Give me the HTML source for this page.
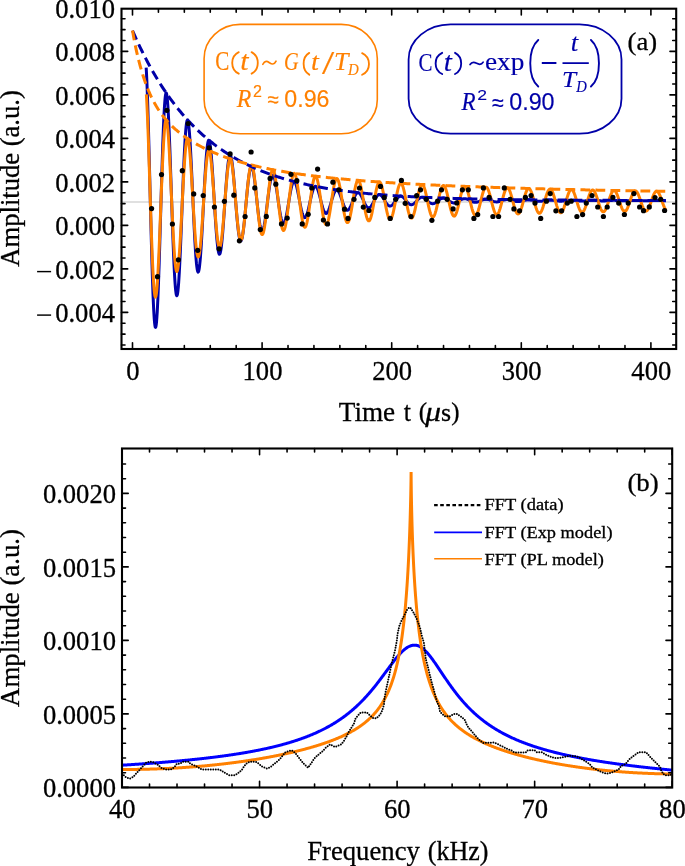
<!DOCTYPE html><html><head><meta charset="utf-8"><style>html,body{margin:0;padding:0;background:#fff;}svg{display:block;will-change:transform;}text{font-family:"Liberation Serif",serif;stroke:#000;stroke-width:0.3px;}.go text{stroke:#ff8000;stroke-width:0.15px}.gb text{stroke:#0000a8;stroke-width:0.15px}</style></head><body><svg width="685" height="866" viewBox="0 0 685 866"><rect width="685" height="866" fill="#fff"/><defs><clipPath id="ca"><rect x="121.50" y="8.70" width="554.70" height="340.30"/></clipPath><clipPath id="cb"><rect x="122.00" y="448.50" width="550.20" height="339.00"/></clipPath></defs><g clip-path="url(#ca)"><path d="M121.50,202.00H676.20" stroke="#d6d6d6" stroke-width="1.7"/><path d="M146.17,67.67 L146.50,73.44 L146.82,80.34 L147.15,88.28 L147.47,97.20 L147.80,106.99 L148.12,117.56 L148.45,128.82 L148.77,140.64 L149.10,152.92 L149.42,165.54 L149.75,178.38 L150.07,191.33 L150.40,204.25 L150.72,217.05 L151.05,229.59 L151.37,241.77 L151.70,253.48 L152.02,264.62 L152.34,275.08 L152.67,284.79 L152.99,293.65 L153.32,301.59 L153.64,308.56 L153.97,314.49 L154.29,319.33 L154.62,323.06 L154.94,325.66 L155.27,327.09 L155.59,327.37 L155.92,326.50 L156.24,324.50 L156.57,321.39 L156.89,317.22 L157.22,312.03 L157.54,305.88 L157.87,298.83 L158.19,290.96 L158.52,282.34 L158.84,273.06 L159.17,263.21 L159.49,252.88 L159.82,242.18 L160.14,231.20 L160.47,220.05 L160.79,208.82 L161.12,197.63 L161.44,186.58 L161.77,175.76 L162.09,165.28 L162.42,155.22 L162.74,145.67 L163.07,136.72 L163.39,128.44 L163.71,120.90 L164.04,114.16 L164.36,108.29 L164.69,103.32 L165.01,99.29 L165.34,96.24 L165.66,94.17 L165.99,93.11 L166.31,93.04 L166.64,93.98 L166.96,95.88 L167.29,98.74 L167.61,102.51 L167.94,107.16 L168.26,112.63 L168.59,118.86 L168.91,125.80 L169.24,133.37 L169.56,141.50 L169.89,150.11 L170.21,159.11 L170.54,168.43 L170.86,177.96 L171.19,187.63 L171.51,197.34 L171.84,207.01 L172.16,216.55 L172.49,225.86 L172.81,234.87 L173.14,243.50 L173.46,251.67 L173.79,259.32 L174.11,266.37 L174.43,272.76 L174.76,278.45 L175.08,283.39 L175.41,287.54 L175.73,290.86 L176.06,293.35 L176.38,294.97 L176.71,295.72 L177.03,295.61 L177.36,294.64 L177.68,292.83 L178.01,290.20 L178.33,286.78 L178.66,282.61 L178.98,277.74 L179.31,272.22 L179.63,266.10 L179.96,259.44 L180.28,252.31 L180.61,244.78 L180.93,236.92 L181.26,228.81 L181.58,220.52 L181.91,212.13 L182.23,203.71 L182.56,195.35 L182.88,187.12 L183.21,179.09 L183.53,171.33 L183.86,163.92 L184.18,156.92 L184.51,150.39 L184.83,144.38 L185.15,138.95 L185.48,134.13 L185.80,129.98 L186.13,126.51 L186.45,123.76 L186.78,121.74 L187.10,120.47 L187.43,119.95 L187.75,120.18 L188.08,121.15 L188.40,122.85 L188.73,125.25 L189.05,128.33 L189.38,132.05 L189.70,136.37 L190.03,141.25 L190.35,146.63 L190.68,152.47 L191.00,158.71 L191.33,165.28 L191.65,172.13 L191.98,179.19 L192.30,186.38 L192.63,193.65 L192.95,200.93 L193.28,208.15 L193.60,215.25 L193.93,222.16 L194.25,228.82 L194.58,235.17 L194.90,241.15 L195.23,246.73 L195.55,251.84 L195.87,256.44 L196.20,260.50 L196.52,263.99 L196.85,266.87 L197.17,269.13 L197.50,270.75 L197.82,271.73 L198.15,272.05 L198.47,271.72 L198.80,270.76 L199.12,269.17 L199.45,266.97 L199.77,264.20 L200.10,260.87 L200.42,257.03 L200.75,252.72 L201.07,247.97 L201.40,242.84 L201.72,237.38 L202.05,231.63 L202.37,225.66 L202.70,219.52 L203.02,213.26 L203.35,206.96 L203.67,200.65 L204.00,194.41 L204.32,188.29 L204.65,182.34 L204.97,176.61 L205.30,171.16 L205.62,166.03 L205.95,161.28 L206.27,156.93 L206.59,153.02 L206.92,149.59 L207.24,146.66 L207.57,144.26 L207.89,142.40 L208.22,141.09 L208.54,140.35 L208.87,140.17 L209.19,140.55 L209.52,141.48 L209.84,142.95 L210.17,144.95 L210.49,147.44 L210.82,150.40 L211.14,153.80 L211.47,157.60 L211.79,161.77 L212.12,166.27 L212.44,171.05 L212.77,176.06 L213.09,181.26 L213.42,186.59 L213.74,192.02 L214.07,197.48 L214.39,202.93 L214.72,208.32 L215.04,213.59 L215.37,218.71 L215.69,223.62 L216.02,228.29 L216.34,232.67 L216.67,236.72 L216.99,240.41 L217.32,243.72 L217.64,246.61 L217.96,249.06 L218.29,251.05 L218.61,252.56 L218.94,253.60 L219.26,254.15 L219.59,254.21 L219.91,253.79 L220.24,252.89 L220.56,251.52 L220.89,249.71 L221.21,247.47 L221.54,244.83 L221.86,241.82 L222.19,238.45 L222.51,234.78 L222.84,230.84 L223.16,226.66 L223.49,222.28 L223.81,217.75 L224.14,213.10 L224.46,208.39 L224.79,203.66 L225.11,198.94 L225.44,194.29 L225.76,189.73 L226.09,185.33 L226.41,181.11 L226.74,177.11 L227.06,173.36 L227.39,169.90 L227.71,166.76 L228.04,163.96 L228.36,161.52 L228.68,159.47 L229.01,157.82 L229.33,156.58 L229.66,155.75 L229.98,155.35 L230.31,155.38 L230.63,155.82 L230.96,156.67 L231.28,157.92 L231.61,159.56 L231.93,161.56 L232.26,163.90 L232.58,166.57 L232.91,169.53 L233.23,172.75 L233.56,176.21 L233.88,179.86 L234.21,183.68 L234.53,187.62 L234.86,191.65 L235.18,195.73 L235.51,199.83 L235.83,203.90 L236.16,207.92 L236.48,211.83 L236.81,215.62 L237.13,219.24 L237.46,222.66 L237.78,225.86 L238.11,228.80 L238.43,231.47 L238.76,233.83 L239.08,235.88 L239.40,237.59 L239.73,238.95 L240.05,239.95 L240.38,240.60 L240.70,240.87 L241.03,240.78 L241.35,240.33 L241.68,239.52 L242.00,238.37 L242.33,236.89 L242.65,235.10 L242.98,233.01 L243.30,230.65 L243.63,228.04 L243.95,225.20 L244.28,222.18 L244.60,218.98 L244.93,215.65 L245.25,212.21 L245.58,208.71 L245.90,205.16 L246.23,201.61 L246.55,198.09 L246.88,194.62 L247.20,191.25 L247.53,187.99 L247.85,184.88 L248.18,181.95 L248.50,179.21 L248.83,176.71 L249.15,174.44 L249.48,172.44 L249.80,170.72 L250.12,169.29 L250.45,168.16 L250.77,167.35 L251.10,166.85 L251.42,166.67 L251.75,166.80 L252.07,167.25 L252.40,168.00 L252.72,169.05 L253.05,170.38 L253.37,171.98 L253.70,173.83 L254.02,175.91 L254.35,178.21 L254.67,180.69 L255.00,183.34 L255.32,186.13 L255.65,189.03 L255.97,192.02 L256.30,195.06 L256.62,198.13 L256.95,201.20 L257.27,204.24 L257.60,207.23 L257.92,210.14 L258.25,212.93 L258.57,215.59 L258.90,218.10 L259.22,220.43 L259.55,222.56 L259.87,224.48 L260.20,226.17 L260.52,227.61 L260.85,228.80 L261.17,229.72 L261.49,230.37 L261.82,230.75 L262.14,230.85 L262.47,230.68 L262.79,230.25 L263.12,229.54 L263.44,228.59 L263.77,227.39 L264.09,225.96 L264.42,224.31 L264.74,222.47 L265.07,220.45 L265.39,218.26 L265.72,215.94 L266.04,213.50 L266.37,210.97 L266.69,208.37 L267.02,205.73 L267.34,203.07 L267.67,200.41 L267.99,197.78 L268.32,195.20 L268.64,192.69 L268.97,190.29 L269.29,188.00 L269.62,185.86 L269.94,183.87 L270.27,182.05 L270.59,180.43 L270.92,179.00 L271.24,177.79 L271.57,176.80 L271.89,176.04 L272.21,175.52 L272.54,175.23 L272.86,175.18 L273.19,175.37 L273.51,175.79 L273.84,176.44 L274.16,177.31 L274.49,178.38 L274.81,179.65 L275.14,181.11 L275.46,182.73 L275.79,184.51 L276.11,186.42 L276.44,188.45 L276.76,190.58 L277.09,192.78 L277.41,195.04 L277.74,197.33 L278.06,199.64 L278.39,201.93 L278.71,204.20 L279.04,206.42 L279.36,208.58 L279.69,210.64 L280.01,212.59 L280.34,214.43 L280.66,216.12 L280.99,217.66 L281.31,219.04 L281.64,220.24 L281.96,221.25 L282.29,222.06 L282.61,222.68 L282.93,223.09 L283.26,223.30 L283.58,223.30 L283.91,223.10 L284.23,222.70 L284.56,222.10 L284.88,221.31 L285.21,220.35 L285.53,219.21 L285.86,217.92 L286.18,216.49 L286.51,214.92 L286.83,213.24 L287.16,211.47 L287.48,209.61 L287.81,207.69 L288.13,205.72 L288.46,203.73 L288.78,201.73 L289.11,199.74 L289.43,197.78 L289.76,195.87 L290.08,194.01 L290.41,192.24 L290.73,190.56 L291.06,189.00 L291.38,187.55 L291.71,186.24 L292.03,185.07 L292.36,184.06 L292.68,183.22 L293.01,182.54 L293.33,182.03 L293.65,181.71 L293.98,181.56 L294.30,181.59 L294.63,181.80 L294.95,182.17 L295.28,182.72 L295.60,183.43 L295.93,184.29 L296.25,185.30 L296.58,186.44 L296.90,187.70 L297.23,189.08 L297.55,190.55 L297.88,192.10 L298.20,193.71 L298.53,195.38 L298.85,197.09 L299.18,198.82 L299.50,200.55 L299.83,202.26 L300.15,203.95 L300.48,205.60 L300.80,207.19 L301.13,208.71 L301.45,210.15 L301.78,211.49 L302.10,212.72 L302.43,213.83 L302.75,214.81 L303.08,215.66 L303.40,216.36 L303.73,216.92 L304.05,217.33 L304.37,217.58 L304.70,217.68 L305.02,217.62 L305.35,217.41 L305.67,217.05 L306.00,216.55 L306.32,215.91 L306.65,215.14 L306.97,214.24 L307.30,213.23 L307.62,212.12 L307.95,210.91 L308.27,209.62 L308.60,208.26 L308.92,206.85 L309.25,205.40 L309.57,203.91 L309.90,202.41 L310.22,200.92 L310.55,199.43 L310.87,197.97 L311.20,196.55 L311.52,195.18 L311.85,193.87 L312.17,192.64 L312.50,191.50 L312.82,190.45 L313.15,189.51 L313.47,188.68 L313.80,187.96 L314.12,187.37 L314.45,186.91 L314.77,186.58 L315.10,186.39 L315.42,186.33 L315.74,186.40 L316.07,186.60 L316.39,186.93 L316.72,187.39 L317.04,187.97 L317.37,188.65 L317.69,189.45 L318.02,190.34 L318.34,191.32 L318.67,192.38 L318.99,193.50 L319.32,194.69 L319.64,195.92 L319.97,197.18 L320.29,198.47 L320.62,199.77 L320.94,201.06 L321.27,202.34 L321.59,203.60 L321.92,204.82 L322.24,206.00 L322.57,207.12 L322.89,208.17 L323.22,209.14 L323.54,210.03 L323.87,210.83 L324.19,211.53 L324.52,212.13 L324.84,212.62 L325.17,212.99 L325.49,213.26 L325.82,213.40 L326.14,213.43 L326.46,213.35 L326.79,213.15 L327.11,212.84 L327.44,212.42 L327.76,211.90 L328.09,211.29 L328.41,210.58 L328.74,209.80 L329.06,208.93 L329.39,208.00 L329.71,207.02 L330.04,205.98 L330.36,204.91 L330.69,203.81 L331.01,202.69 L331.34,201.56 L331.66,200.44 L331.99,199.33 L332.31,198.24 L332.64,197.19 L332.96,196.18 L333.29,195.22 L333.61,194.32 L333.94,193.49 L334.26,192.73 L334.59,192.05 L334.91,191.46 L335.24,190.96 L335.56,190.55 L335.89,190.24 L336.21,190.03 L336.54,189.92 L336.86,189.91 L337.18,190.01 L337.51,190.19 L337.83,190.48 L338.16,190.85 L338.48,191.32 L338.81,191.86 L339.13,192.49 L339.46,193.18 L339.78,193.94 L340.11,194.75 L340.43,195.62 L340.76,196.52 L341.08,197.45 L341.41,198.41 L341.73,199.38 L342.06,200.35 L342.38,201.32 L342.71,202.28 L343.03,203.22 L343.36,204.12 L343.68,204.99 L344.01,205.81 L344.33,206.58 L344.66,207.28 L344.98,207.93 L345.31,208.50 L345.63,209.00 L345.96,209.41 L346.28,209.75 L346.61,210.00 L346.93,210.17 L347.26,210.24 L347.58,210.23 L347.90,210.14 L348.23,209.96 L348.55,209.70 L348.88,209.35 L349.20,208.94 L349.53,208.45 L349.85,207.90 L350.18,207.28 L350.50,206.62 L350.83,205.90 L351.15,205.15 L351.48,204.36 L351.80,203.54 L352.13,202.71 L352.45,201.87 L352.78,201.02 L353.10,200.18 L353.43,199.36 L353.75,198.55 L354.08,197.77 L354.40,197.02 L354.73,196.32 L355.05,195.66 L355.38,195.06 L355.70,194.51 L356.03,194.03 L356.35,193.61 L356.68,193.26 L357.00,192.98 L357.33,192.77 L357.65,192.64 L357.98,192.59 L358.30,192.61 L358.63,192.71 L358.95,192.88 L359.27,193.11 L359.60,193.42 L359.92,193.79 L360.25,194.23 L360.57,194.71 L360.90,195.25 L361.22,195.84 L361.55,196.46 L361.87,197.12 L362.20,197.81 L362.52,198.52 L362.85,199.24 L363.17,199.97 L363.50,200.70 L363.82,201.43 L364.15,202.14 L364.47,202.83 L364.80,203.50 L365.12,204.14 L365.45,204.74 L365.77,205.30 L366.10,205.82 L366.42,206.28 L366.75,206.69 L367.07,207.04 L367.40,207.33 L367.72,207.56 L368.05,207.72 L368.37,207.82 L368.70,207.86 L369.02,207.83 L369.35,207.73 L369.67,207.57 L369.99,207.35 L370.32,207.07 L370.64,206.74 L370.97,206.36 L371.29,205.92 L371.62,205.45 L371.94,204.93 L372.27,204.38 L372.59,203.81 L372.92,203.21 L373.24,202.59 L373.57,201.96 L373.89,201.33 L374.22,200.69 L374.54,200.07 L374.87,199.45 L375.19,198.85 L375.52,198.28 L375.84,197.73 L376.17,197.21 L376.49,196.73 L376.82,196.29 L377.14,195.90 L377.47,195.55 L377.79,195.26 L378.12,195.02 L378.44,194.83 L378.77,194.69 L379.09,194.62 L379.42,194.60 L379.74,194.64 L380.07,194.73 L380.39,194.87 L380.71,195.07 L381.04,195.32 L381.36,195.62 L381.69,195.96 L382.01,196.34 L382.34,196.76 L382.66,197.21 L382.99,197.69 L383.31,198.19 L383.64,198.71 L383.96,199.25 L384.29,199.79 L384.61,200.34 L384.94,200.89 L385.26,201.43 L385.59,201.96 L385.91,202.48 L386.24,202.97 L386.56,203.44 L386.89,203.88 L387.21,204.29 L387.54,204.66 L387.86,204.99 L388.19,205.29 L388.51,205.53 L388.84,205.73 L389.16,205.89 L389.49,205.99 L389.81,206.05 L390.14,206.06 L390.46,206.01 L390.79,205.92 L391.11,205.79 L391.43,205.61 L391.76,205.38 L392.08,205.12 L392.41,204.82 L392.73,204.48 L393.06,204.11 L393.38,203.71 L393.71,203.29 L394.03,202.85 L394.36,202.40 L394.68,201.93 L395.01,201.46 L395.33,200.98 L395.66,200.51 L395.98,200.04 L396.31,199.58 L396.63,199.14 L396.96,198.71 L397.28,198.31 L397.61,197.93 L397.93,197.58 L398.26,197.26 L398.58,196.98 L398.91,196.73 L399.23,196.53 L399.56,196.36 L399.88,196.23 L400.21,196.15 L400.53,196.11 L400.86,196.11 L401.18,196.15 L401.51,196.24 L401.83,196.36 L402.15,196.53 L402.48,196.73 L402.80,196.96 L403.13,197.23 L403.45,197.53 L403.78,197.85 L404.10,198.20 L404.43,198.56 L404.75,198.95 L405.08,199.34 L405.40,199.75 L405.73,200.16 L406.05,200.57 L406.38,200.98 L406.70,201.38 L407.03,201.78 L407.35,202.16 L407.68,202.52 L408.00,202.87 L408.33,203.19 L408.65,203.49 L408.98,203.76 L409.30,203.99 L409.63,204.20 L409.95,204.37 L410.28,204.51 L410.60,204.61 L410.93,204.68 L411.25,204.71 L411.58,204.70 L411.90,204.65 L412.23,204.57 L412.55,204.46 L412.88,204.31 L413.20,204.13 L413.52,203.92 L413.85,203.68 L414.17,203.42 L414.50,203.14 L414.82,202.83 L415.15,202.51 L415.47,202.17 L415.80,201.83 L416.12,201.48 L416.45,201.12 L416.77,200.76 L417.10,200.41 L417.42,200.06 L417.75,199.72 L418.07,199.39 L418.40,199.07 L418.72,198.78 L419.05,198.50 L419.37,198.25 L419.70,198.02 L420.02,197.82 L420.35,197.64 L420.67,197.50 L421.00,197.39 L421.32,197.30 L421.65,197.25 L421.97,197.23 L422.30,197.24 L422.62,197.29 L422.95,197.36 L423.27,197.47 L423.60,197.60 L423.92,197.76 L424.24,197.95 L424.57,198.16 L424.89,198.39 L425.22,198.64 L425.54,198.90 L425.87,199.18 L426.19,199.48 L426.52,199.78 L426.84,200.08 L427.17,200.39 L427.49,200.70 L427.82,201.01 L428.14,201.31 L428.47,201.60 L428.79,201.88 L429.12,202.15 L429.44,202.40 L429.77,202.64 L430.09,202.85 L430.42,203.05 L430.74,203.22 L431.07,203.36 L431.39,203.48 L431.72,203.58 L432.04,203.64 L432.37,203.68 L432.69,203.69 L433.02,203.68 L433.34,203.63 L433.67,203.56 L433.99,203.47 L434.32,203.35 L434.64,203.20 L434.96,203.04 L435.29,202.85 L435.61,202.65 L435.94,202.43 L436.26,202.19 L436.59,201.95 L436.91,201.69 L437.24,201.43 L437.56,201.17 L437.89,200.90 L438.21,200.63 L438.54,200.36 L438.86,200.10 L439.19,199.85 L439.51,199.61 L439.84,199.38 L440.16,199.16 L440.49,198.96 L440.81,198.78 L441.14,198.61 L441.46,198.47 L441.79,198.34 L442.11,198.24 L442.44,198.17 L442.76,198.11 L443.09,198.08 L443.41,198.08 L443.74,198.10 L444.06,198.14 L444.39,198.20 L444.71,198.29 L445.04,198.40 L445.36,198.53 L445.68,198.67 L446.01,198.83 L446.33,199.01 L446.66,199.21 L446.98,199.41 L447.31,199.62 L447.63,199.85 L447.96,200.07 L448.28,200.30 L448.61,200.54 L448.93,200.77 L449.26,201.00 L449.58,201.22 L449.91,201.44 L450.23,201.65 L450.56,201.84 L450.88,202.03 L451.21,202.20 L451.53,202.36 L451.86,202.49 L452.18,202.62 L452.51,202.72 L452.83,202.80 L453.16,202.86 L453.48,202.91 L453.81,202.93 L454.13,202.93 L454.46,202.91 L454.78,202.87 L455.11,202.81 L455.43,202.73 L455.76,202.63 L456.08,202.52 L456.41,202.39 L456.73,202.24 L457.05,202.08 L457.38,201.92 L457.70,201.74 L458.03,201.55 L458.35,201.36 L458.68,201.16 L459.00,200.96 L459.33,200.75 L459.65,200.55 L459.98,200.36 L460.30,200.16 L460.63,199.97 L460.95,199.80 L461.28,199.63 L461.60,199.47 L461.93,199.32 L462.25,199.19 L462.58,199.07 L462.90,198.97 L463.23,198.88 L463.55,198.81 L463.88,198.76 L464.20,198.73 L464.53,198.71 L464.85,198.71 L465.18,198.74 L465.50,198.77 L465.83,198.83 L466.15,198.90 L466.48,198.99 L466.80,199.09 L467.13,199.20 L467.45,199.33 L467.77,199.47 L468.10,199.61 L468.42,199.77 L468.75,199.93 L469.07,200.10 L469.40,200.27 L469.72,200.45 L470.05,200.62 L470.37,200.80 L470.70,200.97 L471.02,201.13 L471.35,201.29 L471.67,201.45 L472.00,201.59 L472.32,201.73 L472.65,201.85 L472.97,201.96 L473.30,202.06 L473.62,202.15 L473.95,202.22 L474.27,202.28 L474.60,202.32 L474.92,202.35 L475.25,202.36 L475.57,202.35 L475.90,202.33 L476.22,202.29 L476.55,202.24 L476.87,202.18 L477.20,202.10 L477.52,202.01 L477.85,201.91 L478.17,201.80 L478.49,201.67 L478.82,201.54 L479.14,201.41 L479.47,201.26 L479.79,201.12 L480.12,200.97 L480.44,200.82 L480.77,200.66 L481.09,200.51 L481.42,200.37 L481.74,200.22 L482.07,200.08 L482.39,199.95 L482.72,199.83 L483.04,199.71 L483.37,199.61 L483.69,199.51 L484.02,199.43 L484.34,199.35 L484.67,199.29 L484.99,199.25 L485.32,199.21 L485.64,199.19 L485.97,199.19 L486.29,199.19 L486.62,199.21 L486.94,199.25 L487.27,199.29 L487.59,199.35 L487.92,199.42 L488.24,199.50 L488.57,199.59 L488.89,199.69 L489.21,199.79 L489.54,199.91 L489.86,200.03 L490.19,200.15 L490.51,200.28 L490.84,200.41 L491.16,200.54 L491.49,200.67 L491.81,200.80 L492.14,200.93 L492.46,201.05 L492.79,201.17 L493.11,201.28 L493.44,201.39 L493.76,201.49 L494.09,201.58 L494.41,201.66 L494.74,201.73 L495.06,201.79 L495.39,201.84 L495.71,201.88 L496.04,201.91 L496.36,201.92 L496.69,201.92 L497.01,201.92 L497.34,201.90 L497.66,201.86 L497.99,201.82 L498.31,201.77 L498.64,201.71 L498.96,201.64 L499.29,201.56 L499.61,201.47 L499.93,201.38 L500.26,201.28 L500.58,201.17 L500.91,201.06 L501.23,200.95 L501.56,200.84 L501.88,200.72 L502.21,200.61 L502.53,200.50 L502.86,200.39 L503.18,200.28 L503.51,200.18 L503.83,200.08 L504.16,199.99 L504.48,199.91 L504.81,199.83 L505.13,199.76 L505.46,199.70 L505.78,199.65 L506.11,199.61 L506.43,199.58 L506.76,199.56 L507.08,199.54 L507.41,199.54 L507.73,199.55 L508.06,199.57 L508.38,199.60 L508.71,199.64 L509.03,199.68 L509.36,199.74 L509.68,199.80 L510.01,199.87 L510.33,199.95 L510.66,200.03 L510.98,200.12 L511.30,200.21 L511.63,200.30 L511.95,200.40 L512.28,200.50 L512.60,200.60 L512.93,200.69 L513.25,200.79 L513.58,200.89 L513.90,200.98 L514.23,201.07 L514.55,201.15 L514.88,201.23 L515.20,201.30 L515.53,201.36 L515.85,201.42 L516.18,201.47 L516.50,201.51 L516.83,201.55 L517.15,201.57 L517.48,201.59 L517.80,201.60 L518.13,201.60 L518.45,201.59 L518.78,201.57 L519.10,201.54 L519.43,201.51 L519.75,201.47 L520.08,201.42 L520.40,201.36 L520.73,201.30 L521.05,201.23 L521.38,201.16 L521.70,201.08 L522.02,201.00 L522.35,200.92 L522.67,200.84 L523.00,200.75 L523.32,200.67 L523.65,200.58 L523.97,200.50 L524.30,200.41 L524.62,200.34 L524.95,200.26 L525.27,200.19 L525.60,200.12 L525.92,200.06 L526.25,200.00 L526.57,199.96 L526.90,199.91 L527.22,199.88 L527.55,199.85 L527.87,199.83 L528.20,199.81 L528.52,199.81 L528.85,199.81 L529.17,199.82 L529.50,199.84 L529.82,199.86 L530.15,199.89 L530.47,199.93 L530.80,199.97 L531.12,200.02 L531.45,200.08 L531.77,200.14 L532.10,200.20 L532.42,200.27 L532.74,200.34 L533.07,200.41 L533.39,200.48 L533.72,200.55 L534.04,200.63 L534.37,200.70 L534.69,200.77 L535.02,200.84 L535.34,200.91 L535.67,200.98 L535.99,201.04 L536.32,201.09 L536.64,201.15 L536.97,201.19 L537.29,201.24 L537.62,201.27 L537.94,201.30 L538.27,201.32 L538.59,201.34 L538.92,201.35 L539.24,201.35 L539.57,201.35 L539.89,201.34 L540.22,201.33 L540.54,201.30 L540.87,201.28 L541.19,201.24 L541.52,201.20 L541.84,201.16 L542.17,201.11 L542.49,201.06 L542.82,201.00 L543.14,200.94 L543.46,200.88 L543.79,200.82 L544.11,200.76 L544.44,200.69 L544.76,200.63 L545.09,200.57 L545.41,200.50 L545.74,200.44 L546.06,200.38 L546.39,200.33 L546.71,200.27 L547.04,200.23 L547.36,200.18 L547.69,200.14 L548.01,200.11 L548.34,200.08 L548.66,200.05 L548.99,200.03 L549.31,200.02 L549.64,200.01 L549.96,200.01 L550.29,200.01 L550.61,200.02 L550.94,200.04 L551.26,200.06 L551.59,200.08 L551.91,200.11 L552.24,200.14 L552.56,200.18 L552.89,200.23 L553.21,200.27 L553.54,200.32 L553.86,200.37 L554.19,200.42 L554.51,200.48 L554.83,200.53 L555.16,200.59 L555.48,200.65 L555.81,200.70 L556.13,200.75 L556.46,200.81 L556.78,200.86 L557.11,200.90 L557.43,200.95 L557.76,200.99 L558.08,201.03 L558.41,201.06 L558.73,201.09 L559.06,201.12 L559.38,201.14 L559.71,201.15 L560.03,201.16 L560.36,201.17 L560.68,201.17 L561.01,201.17 L561.33,201.16 L561.66,201.14 L561.98,201.13 L562.31,201.10 L562.63,201.08 L562.96,201.04 L563.28,201.01 L563.61,200.97 L563.93,200.93 L564.26,200.89 L564.58,200.85 L564.91,200.80 L565.23,200.75 L565.55,200.70 L565.88,200.66 L566.20,200.61 L566.53,200.56 L566.85,200.51 L567.18,200.47 L567.50,200.42 L567.83,200.38 L568.15,200.34 L568.48,200.31 L568.80,200.28 L569.13,200.25 L569.45,200.22 L569.78,200.20 L570.10,200.18 L570.43,200.17 L570.75,200.16 L571.08,200.16 L571.40,200.16 L571.73,200.16 L572.05,200.17 L572.38,200.18 L572.70,200.20 L573.03,200.22 L573.35,200.24 L573.68,200.27 L574.00,200.30 L574.33,200.33 L574.65,200.37 L574.98,200.41 L575.30,200.45 L575.63,200.49 L575.95,200.53 L576.27,200.57 L576.60,200.61 L576.92,200.65 L577.25,200.69 L577.57,200.73 L577.90,200.77 L578.22,200.81 L578.55,200.84 L578.87,200.88 L579.20,200.91 L579.52,200.93 L579.85,200.96 L580.17,200.98 L580.50,201.00 L580.82,201.01 L581.15,201.02 L581.47,201.03 L581.80,201.03 L582.12,201.03 L582.45,201.03 L582.77,201.02 L583.10,201.01 L583.42,200.99 L583.75,200.97 L584.07,200.95 L584.40,200.93 L584.72,200.90 L585.05,200.87 L585.37,200.84 L585.70,200.81 L586.02,200.77 L586.35,200.74 L586.67,200.70 L586.99,200.67 L587.32,200.63 L587.64,200.59 L587.97,200.56 L588.29,200.52 L588.62,200.49 L588.94,200.46 L589.27,200.43 L589.59,200.40 L589.92,200.37 L590.24,200.35 L590.57,200.33 L590.89,200.31 L591.22,200.30 L591.54,200.29 L591.87,200.28 L592.19,200.27 L592.52,200.27 L592.84,200.27 L593.17,200.28 L593.49,200.28 L593.82,200.29 L594.14,200.31 L594.47,200.32 L594.79,200.34 L595.12,200.36 L595.44,200.39 L595.77,200.41 L596.09,200.44 L596.42,200.47 L596.74,200.50 L597.07,200.53 L597.39,200.56 L597.71,200.59 L598.04,200.62 L598.36,200.65 L598.69,200.68 L599.01,200.71 L599.34,200.74 L599.66,200.77 L599.99,200.80 L600.31,200.82 L600.64,200.84 L600.96,200.86 L601.29,200.88 L601.61,200.89 L601.94,200.91 L602.26,200.92 L602.59,200.92 L602.91,200.93 L603.24,200.93 L603.56,200.93 L603.89,200.92 L604.21,200.91 L604.54,200.90 L604.86,200.89 L605.19,200.88 L605.51,200.86 L605.84,200.84 L606.16,200.82 L606.49,200.80 L606.81,200.78 L607.14,200.75 L607.46,200.72 L607.79,200.70 L608.11,200.67 L608.44,200.64 L608.76,200.62 L609.08,200.59 L609.41,200.56 L609.73,200.54 L610.06,200.51 L610.38,200.49 L610.71,200.47 L611.03,200.44 L611.36,200.43 L611.68,200.41 L612.01,200.39 L612.33,200.38 L612.66,200.37 L612.98,200.36 L613.31,200.36 L613.63,200.35 L613.96,200.35 L614.28,200.36 L614.61,200.36 L614.93,200.37 L615.26,200.38 L615.58,200.39 L615.91,200.40 L616.23,200.41 L616.56,200.43 L616.88,200.45 L617.21,200.47 L617.53,200.49 L617.86,200.51 L618.18,200.53 L618.51,200.56 L618.83,200.58 L619.16,200.60 L619.48,200.63 L619.80,200.65 L620.13,200.67 L620.45,200.70 L620.78,200.72 L621.10,200.74 L621.43,200.76 L621.75,200.77 L622.08,200.79 L622.40,200.80 L622.73,200.82 L623.05,200.83 L623.38,200.84 L623.70,200.84 L624.03,200.85 L624.35,200.85 L624.68,200.85 L625.00,200.85 L625.33,200.84 L625.65,200.84 L625.98,200.83 L626.30,200.82 L626.63,200.81 L626.95,200.79 L627.28,200.78 L627.60,200.76 L627.93,200.75 L628.25,200.73 L628.58,200.71 L628.90,200.69 L629.23,200.67 L629.55,200.65 L629.88,200.63 L630.20,200.61 L630.52,200.59 L630.85,200.57 L631.17,200.55 L631.50,200.53 L631.82,200.51 L632.15,200.49 L632.47,200.48 L632.80,200.47 L633.12,200.45 L633.45,200.44 L633.77,200.43 L634.10,200.43 L634.42,200.42 L634.75,200.42 L635.07,200.42 L635.40,200.42 L635.72,200.42 L636.05,200.42 L636.37,200.43 L636.70,200.44 L637.02,200.44 L637.35,200.45 L637.67,200.47 L638.00,200.48 L638.32,200.49 L638.65,200.51 L638.97,200.52 L639.30,200.54 L639.62,200.56 L639.95,200.58 L640.27,200.59 L640.60,200.61 L640.92,200.63 L641.24,200.65 L641.57,200.66 L641.89,200.68 L642.22,200.70 L642.54,200.71 L642.87,200.72 L643.19,200.74 L643.52,200.75 L643.84,200.76 L644.17,200.77 L644.49,200.78 L644.82,200.78 L645.14,200.79 L645.47,200.79 L645.79,200.79 L646.12,200.79 L646.44,200.79 L646.77,200.78 L647.09,200.78 L647.42,200.77 L647.74,200.76 L648.07,200.75 L648.39,200.74 L648.72,200.73 L649.04,200.72 L649.37,200.71 L649.69,200.69 L650.02,200.68 L650.34,200.66 L650.67,200.65 L650.99,200.63 L651.32,200.62 L651.64,200.60 L651.97,200.59 L652.29,200.57 L652.61,200.56 L652.94,200.54 L653.26,200.53 L653.59,200.52 L653.91,200.51 L654.24,200.50 L654.56,200.49 L654.89,200.48 L655.21,200.48 L655.54,200.47 L655.86,200.47 L656.19,200.46 L656.51,200.46 L656.84,200.46 L657.16,200.47 L657.49,200.47 L657.81,200.47 L658.14,200.48 L658.46,200.49 L658.79,200.50 L659.11,200.50 L659.44,200.52 L659.76,200.53 L660.09,200.54 L660.41,200.55 L660.74,200.56 L661.06,200.58 L661.39,200.59 L661.71,200.60 L662.04,200.62 L662.36,200.63 L662.69,200.64 L663.01,200.65 L663.33,200.67 L663.66,200.68 L663.98,200.69 L664.31,200.70 L664.63,200.71 L664.96,200.72 L665.28,200.72 L665.61,200.73 L665.93,200.74" stroke="#0000a8" stroke-width="3" fill="none" stroke-linejoin="round"/><path d="M146.37,94.42 L146.69,99.98 L147.02,106.37 L147.34,113.53 L147.67,121.38 L147.99,129.84 L148.32,138.83 L148.64,148.26 L148.97,158.04 L149.29,168.07 L149.61,178.27 L149.94,188.53 L150.26,198.77 L150.59,208.90 L150.91,218.82 L151.24,228.45 L151.56,237.70 L151.89,246.51 L152.21,254.78 L152.54,262.47 L152.86,269.50 L153.19,275.82 L153.51,281.38 L153.84,286.15 L154.16,290.08 L154.49,293.16 L154.81,295.37 L155.13,296.69 L155.46,297.13 L155.78,296.68 L156.11,295.38 L156.43,293.23 L156.76,290.27 L157.08,286.53 L157.41,282.06 L157.73,276.90 L158.06,271.10 L158.38,264.74 L158.71,257.86 L159.03,250.54 L159.36,242.85 L159.68,234.87 L160.01,226.65 L160.33,218.30 L160.66,209.87 L160.98,201.45 L161.30,193.11 L161.63,184.93 L161.95,176.98 L162.28,169.32 L162.60,162.04 L162.93,155.18 L163.25,148.80 L163.58,142.96 L163.90,137.71 L164.23,133.08 L164.55,129.12 L164.88,125.85 L165.20,123.30 L165.53,121.47 L165.85,120.39 L166.18,120.05 L166.50,120.45 L166.83,121.59 L167.15,123.43 L167.47,125.97 L167.80,129.16 L168.12,132.98 L168.45,137.39 L168.77,142.34 L169.10,147.78 L169.42,153.65 L169.75,159.91 L170.07,166.48 L170.40,173.32 L170.72,180.35 L171.05,187.51 L171.37,194.72 L171.70,201.94 L172.02,209.09 L172.35,216.10 L172.67,222.92 L172.99,229.48 L173.32,235.73 L173.64,241.62 L173.97,247.08 L174.29,252.08 L174.62,256.58 L174.94,260.53 L175.27,263.91 L175.59,266.69 L175.92,268.85 L176.24,270.37 L176.57,271.25 L176.89,271.48 L177.22,271.07 L177.54,270.03 L177.87,268.36 L178.19,266.09 L178.52,263.25 L178.84,259.86 L179.16,255.96 L179.49,251.59 L179.81,246.79 L180.14,241.61 L180.46,236.10 L180.79,230.31 L181.11,224.30 L181.44,218.12 L181.76,211.83 L182.09,205.49 L182.41,199.15 L182.74,192.88 L183.06,186.72 L183.39,180.74 L183.71,174.99 L184.04,169.52 L184.36,164.38 L184.69,159.61 L185.01,155.24 L185.33,151.33 L185.66,147.90 L185.98,144.98 L186.31,142.59 L186.63,140.75 L186.96,139.47 L187.28,138.76 L187.61,138.63 L187.93,139.06 L188.26,140.06 L188.58,141.61 L188.91,143.69 L189.23,146.28 L189.56,149.35 L189.88,152.87 L190.21,156.81 L190.53,161.12 L190.86,165.77 L191.18,170.71 L191.50,175.89 L191.83,181.27 L192.15,186.79 L192.48,192.40 L192.80,198.06 L193.13,203.71 L193.45,209.29 L193.78,214.76 L194.10,220.07 L194.43,225.18 L194.75,230.03 L195.08,234.58 L195.40,238.80 L195.73,242.64 L196.05,246.08 L196.38,249.09 L196.70,251.64 L197.02,253.71 L197.35,255.29 L197.67,256.36 L198.00,256.93 L198.32,256.97 L198.65,256.51 L198.97,255.54 L199.30,254.09 L199.62,252.15 L199.95,249.77 L200.27,246.95 L200.60,243.73 L200.92,240.14 L201.25,236.22 L201.57,232.00 L201.90,227.53 L202.22,222.84 L202.55,217.98 L202.87,213.00 L203.19,207.93 L203.52,202.84 L203.84,197.76 L204.17,192.74 L204.49,187.83 L204.82,183.07 L205.14,178.50 L205.47,174.16 L205.79,170.10 L206.12,166.34 L206.44,162.92 L206.77,159.87 L207.09,157.22 L207.42,154.98 L207.74,153.17 L208.07,151.81 L208.39,150.91 L208.72,150.47 L209.04,150.50 L209.36,150.99 L209.69,151.93 L210.01,153.31 L210.34,155.12 L210.66,157.34 L210.99,159.95 L211.31,162.91 L211.64,166.21 L211.96,169.81 L212.29,173.67 L212.61,177.75 L212.94,182.03 L213.26,186.46 L213.59,190.99 L213.91,195.59 L214.24,200.21 L214.56,204.82 L214.89,209.36 L215.21,213.80 L215.53,218.10 L215.86,222.22 L216.18,226.12 L216.51,229.78 L216.83,233.15 L217.16,236.20 L217.48,238.92 L217.81,241.28 L218.13,243.26 L218.46,244.84 L218.78,246.01 L219.11,246.77 L219.43,247.10 L219.76,247.02 L220.08,246.51 L220.41,245.59 L220.73,244.27 L221.05,242.56 L221.38,240.48 L221.70,238.05 L222.03,235.30 L222.35,232.25 L222.68,228.93 L223.00,225.38 L223.33,221.62 L223.65,217.70 L223.98,213.64 L224.30,209.49 L224.63,205.28 L224.95,201.06 L225.28,196.86 L225.60,192.73 L225.93,188.68 L226.25,184.78 L226.58,181.04 L226.90,177.51 L227.22,174.20 L227.55,171.16 L227.87,168.41 L228.20,165.98 L228.52,163.87 L228.85,162.11 L229.17,160.72 L229.50,159.71 L229.82,159.08 L230.15,158.83 L230.47,158.97 L230.80,159.49 L231.12,160.39 L231.45,161.66 L231.77,163.28 L232.10,165.24 L232.42,167.51 L232.75,170.08 L233.07,172.91 L233.39,175.99 L233.72,179.29 L234.04,182.76 L234.37,186.39 L234.69,190.13 L235.02,193.95 L235.34,197.82 L235.67,201.69 L235.99,205.54 L236.32,209.33 L236.64,213.03 L236.97,216.60 L237.29,220.01 L237.62,223.23 L237.94,226.23 L238.27,228.99 L238.59,231.47 L238.91,233.67 L239.24,235.56 L239.56,237.12 L239.89,238.35 L240.21,239.23 L240.54,239.76 L240.86,239.93 L241.19,239.75 L241.51,239.21 L241.84,238.33 L242.16,237.11 L242.49,235.57 L242.81,233.71 L243.14,231.57 L243.46,229.17 L243.79,226.51 L244.11,223.64 L244.44,220.57 L244.76,217.34 L245.08,213.97 L245.41,210.51 L245.73,206.97 L246.06,203.40 L246.38,199.82 L246.71,196.26 L247.03,192.77 L247.36,189.37 L247.68,186.10 L248.01,182.97 L248.33,180.02 L248.66,177.28 L248.98,174.77 L249.31,172.51 L249.63,170.52 L249.96,168.82 L250.28,167.42 L250.61,166.33 L250.93,165.57 L251.25,165.13 L251.58,165.03 L251.90,165.25 L252.23,165.80 L252.55,166.67 L252.88,167.84 L253.20,169.32 L253.53,171.08 L253.85,173.10 L254.18,175.37 L254.50,177.87 L254.83,180.56 L255.15,183.43 L255.48,186.45 L255.80,189.59 L256.13,192.82 L256.45,196.11 L256.78,199.43 L257.10,202.75 L257.42,206.04 L257.75,209.27 L258.07,212.42 L258.40,215.44 L258.72,218.32 L259.05,221.03 L259.37,223.54 L259.70,225.84 L260.02,227.90 L260.35,229.71 L260.67,231.25 L261.00,232.51 L261.32,233.47 L261.65,234.13 L261.97,234.49 L262.30,234.54 L262.62,234.29 L262.94,233.73 L263.27,232.88 L263.59,231.73 L263.92,230.32 L264.24,228.64 L264.57,226.72 L264.89,224.57 L265.22,222.21 L265.54,219.67 L265.87,216.97 L266.19,214.14 L266.52,211.20 L266.84,208.18 L267.17,205.10 L267.49,202.00 L267.82,198.91 L268.14,195.84 L268.47,192.84 L268.79,189.92 L269.11,187.12 L269.44,184.46 L269.76,181.96 L270.09,179.64 L270.41,177.53 L270.74,175.64 L271.06,173.99 L271.39,172.59 L271.71,171.46 L272.04,170.60 L272.36,170.03 L272.69,169.74 L273.01,169.74 L273.34,170.02 L273.66,170.59 L273.99,171.43 L274.31,172.54 L274.64,173.91 L274.96,175.51 L275.28,177.35 L275.61,179.39 L275.93,181.63 L276.26,184.03 L276.58,186.58 L276.91,189.25 L277.23,192.02 L277.56,194.86 L277.88,197.74 L278.21,200.64 L278.53,203.54 L278.86,206.40 L279.18,209.21 L279.51,211.92 L279.83,214.53 L280.16,217.01 L280.48,219.32 L280.81,221.47 L281.13,223.42 L281.45,225.15 L281.78,226.66 L282.10,227.93 L282.43,228.95 L282.75,229.71 L283.08,230.21 L283.40,230.44 L283.73,230.40 L284.05,230.09 L284.38,229.51 L284.70,228.68 L285.03,227.60 L285.35,226.28 L285.68,224.73 L286.00,222.98 L286.33,221.03 L286.65,218.90 L286.97,216.62 L287.30,214.21 L287.62,211.68 L287.95,209.06 L288.27,206.39 L288.60,203.67 L288.92,200.94 L289.25,198.22 L289.57,195.53 L289.90,192.91 L290.22,190.36 L290.55,187.93 L290.87,185.62 L291.20,183.47 L291.52,181.48 L291.85,179.67 L292.17,178.07 L292.50,176.69 L292.82,175.53 L293.14,174.61 L293.47,173.93 L293.79,173.50 L294.12,173.33 L294.44,173.41 L294.77,173.74 L295.09,174.32 L295.42,175.15 L295.74,176.20 L296.07,177.48 L296.39,178.97 L296.72,180.66 L297.04,182.53 L297.37,184.56 L297.69,186.73 L298.02,189.03 L298.34,191.42 L298.67,193.90 L298.99,196.44 L299.31,199.01 L299.64,201.59 L299.96,204.15 L300.29,206.68 L300.61,209.14 L300.94,211.53 L301.26,213.81 L301.59,215.97 L301.91,217.98 L302.24,219.83 L302.56,221.50 L302.89,222.99 L303.21,224.26 L303.54,225.32 L303.86,226.15 L304.19,226.76 L304.51,227.12 L304.83,227.24 L305.16,227.13 L305.48,226.78 L305.81,226.19 L306.13,225.38 L306.46,224.34 L306.78,223.10 L307.11,221.66 L307.43,220.03 L307.76,218.24 L308.08,216.29 L308.41,214.22 L308.73,212.02 L309.06,209.74 L309.38,207.38 L309.71,204.98 L310.03,202.54 L310.36,200.10 L310.68,197.68 L311.00,195.29 L311.33,192.96 L311.65,190.72 L311.98,188.58 L312.30,186.55 L312.63,184.67 L312.95,182.94 L313.28,181.38 L313.60,180.01 L313.93,178.84 L314.25,177.87 L314.58,177.11 L314.90,176.58 L315.23,176.27 L315.55,176.19 L315.88,176.33 L316.20,176.71 L316.53,177.30 L316.85,178.11 L317.17,179.12 L317.50,180.33 L317.82,181.73 L318.15,183.30 L318.47,185.03 L318.80,186.89 L319.12,188.89 L319.45,190.98 L319.77,193.16 L320.10,195.41 L320.42,197.70 L320.75,200.02 L321.07,202.34 L321.40,204.63 L321.72,206.89 L322.05,209.09 L322.37,211.21 L322.70,213.23 L323.02,215.13 L323.34,216.90 L323.67,218.51 L323.99,219.97 L324.32,221.24 L324.64,222.33 L324.97,223.22 L325.29,223.90 L325.62,224.37 L325.94,224.63 L326.27,224.67 L326.59,224.50 L326.92,224.11 L327.24,223.51 L327.57,222.71 L327.89,221.71 L328.22,220.53 L328.54,219.17 L328.86,217.65 L329.19,215.98 L329.51,214.19 L329.84,212.27 L330.16,210.26 L330.49,208.17 L330.81,206.02 L331.14,203.84 L331.46,201.63 L331.79,199.42 L332.11,197.24 L332.44,195.10 L332.76,193.01 L333.09,191.01 L333.41,189.10 L333.74,187.31 L334.06,185.65 L334.39,184.13 L334.71,182.78 L335.03,181.59 L335.36,180.59 L335.68,179.77 L336.01,179.15 L336.33,178.73 L336.66,178.52 L336.98,178.52 L337.31,178.72 L337.63,179.12 L337.96,179.72 L338.28,180.52 L338.61,181.50 L338.93,182.66 L339.26,183.98 L339.58,185.46 L339.91,187.07 L340.23,188.80 L340.56,190.65 L340.88,192.58 L341.20,194.58 L341.53,196.64 L341.85,198.74 L342.18,200.84 L342.50,202.95 L342.83,205.03 L343.15,207.07 L343.48,209.05 L343.80,210.95 L344.13,212.75 L344.45,214.44 L344.78,216.01 L345.10,217.43 L345.43,218.70 L345.75,219.81 L346.08,220.74 L346.40,221.48 L346.72,222.04 L347.05,222.41 L347.37,222.58 L347.70,222.55 L348.02,222.33 L348.35,221.91 L348.67,221.30 L349.00,220.51 L349.32,219.54 L349.65,218.41 L349.97,217.12 L350.30,215.69 L350.62,214.12 L350.95,212.45 L351.27,210.67 L351.60,208.81 L351.92,206.88 L352.25,204.90 L352.57,202.89 L352.89,200.88 L353.22,198.87 L353.54,196.88 L353.87,194.94 L354.19,193.05 L354.52,191.25 L354.84,189.54 L355.17,187.94 L355.49,186.46 L355.82,185.12 L356.14,183.93 L356.47,182.90 L356.79,182.04 L357.12,181.35 L357.44,180.85 L357.77,180.53 L358.09,180.40 L358.42,180.45 L358.74,180.70 L359.06,181.13 L359.39,181.74 L359.71,182.53 L360.04,183.48 L360.36,184.60 L360.69,185.86 L361.01,187.25 L361.34,188.77 L361.66,190.40 L361.99,192.12 L362.31,193.91 L362.64,195.77 L362.96,197.67 L363.29,199.60 L363.61,201.53 L363.94,203.46 L364.26,205.36 L364.59,207.21 L364.91,209.01 L365.23,210.72 L365.56,212.35 L365.88,213.86 L366.21,215.26 L366.53,216.52 L366.86,217.64 L367.18,218.60 L367.51,219.40 L367.83,220.03 L368.16,220.49 L368.48,220.77 L368.81,220.86 L369.13,220.77 L369.46,220.51 L369.78,220.06 L370.11,219.45 L370.43,218.67 L370.75,217.72 L371.08,216.63 L371.40,215.40 L371.73,214.04 L372.05,212.56 L372.38,210.98 L372.70,209.32 L373.03,207.58 L373.35,205.79 L373.68,203.96 L374.00,202.10 L374.33,200.24 L374.65,198.40 L374.98,196.58 L375.30,194.80 L375.63,193.09 L375.95,191.45 L376.28,189.91 L376.60,188.47 L376.92,187.15 L377.25,185.96 L377.57,184.91 L377.90,184.01 L378.22,183.27 L378.55,182.69 L378.87,182.28 L379.20,182.04 L379.52,181.98 L379.85,182.09 L380.17,182.38 L380.50,182.83 L380.82,183.45 L381.15,184.23 L381.47,185.16 L381.80,186.24 L382.12,187.45 L382.45,188.77 L382.77,190.21 L383.09,191.75 L383.42,193.36 L383.74,195.04 L384.07,196.77 L384.39,198.54 L384.72,200.33 L385.04,202.12 L385.37,203.89 L385.69,205.64 L386.02,207.34 L386.34,208.97 L386.67,210.53 L386.99,212.00 L387.32,213.37 L387.64,214.62 L387.97,215.75 L388.29,216.73 L388.62,217.58 L388.94,218.27 L389.26,218.79 L389.59,219.16 L389.91,219.36 L390.24,219.39 L390.56,219.26 L390.89,218.95 L391.21,218.49 L391.54,217.86 L391.86,217.09 L392.19,216.17 L392.51,215.11 L392.84,213.93 L393.16,212.63 L393.49,211.22 L393.81,209.73 L394.14,208.16 L394.46,206.53 L394.78,204.86 L395.11,203.15 L395.43,201.43 L395.76,199.70 L396.08,198.00 L396.41,196.32 L396.73,194.69 L397.06,193.12 L397.38,191.63 L397.71,190.23 L398.03,188.93 L398.36,187.74 L398.68,186.68 L399.01,185.75 L399.33,184.96 L399.66,184.32 L399.98,183.84 L400.31,183.51 L400.63,183.35 L400.95,183.35 L401.28,183.50 L401.60,183.82 L401.93,184.30 L402.25,184.92 L402.58,185.70 L402.90,186.61 L403.23,187.65 L403.55,188.81 L403.88,190.09 L404.20,191.45 L404.53,192.91 L404.85,194.43 L405.18,196.01 L405.50,197.64 L405.83,199.29 L406.15,200.96 L406.48,202.62 L406.80,204.26 L407.12,205.87 L407.45,207.44 L407.77,208.94 L408.10,210.37 L408.42,211.71 L408.75,212.94 L409.07,214.07 L409.40,215.08 L409.72,215.95 L410.05,216.69 L410.37,217.28 L410.70,217.72 L411.02,218.01 L411.35,218.14 L411.67,218.12 L412.00,217.94 L412.32,217.61 L412.64,217.12 L412.97,216.49 L413.29,215.72 L413.62,214.82 L413.94,213.79 L414.27,212.65 L414.59,211.40 L414.92,210.07 L415.24,208.65 L415.57,207.16 L415.89,205.63 L416.22,204.05 L416.54,202.45 L416.87,200.84 L417.19,199.24 L417.52,197.65 L417.84,196.10 L418.17,194.60 L418.49,193.16 L418.81,191.79 L419.14,190.51 L419.46,189.33 L419.79,188.26 L420.11,187.31 L420.44,186.49 L420.76,185.80 L421.09,185.25 L421.41,184.84 L421.74,184.59 L422.06,184.49 L422.39,184.54 L422.71,184.73 L423.04,185.08 L423.36,185.58 L423.69,186.21 L424.01,186.98 L424.34,187.87 L424.66,188.89 L424.98,190.01 L425.31,191.23 L425.63,192.54 L425.96,193.92 L426.28,195.37 L426.61,196.86 L426.93,198.39 L427.26,199.95 L427.58,201.50 L427.91,203.06 L428.23,204.59 L428.56,206.08 L428.88,207.53 L429.21,208.91 L429.53,210.22 L429.86,211.44 L430.18,212.57 L430.51,213.58 L430.83,214.48 L431.15,215.26 L431.48,215.91 L431.80,216.41 L432.13,216.78 L432.45,217.00 L432.78,217.08 L433.10,217.00 L433.43,216.79 L433.75,216.42 L434.08,215.92 L434.40,215.29 L434.73,214.52 L435.05,213.64 L435.38,212.63 L435.70,211.53 L436.03,210.33 L436.35,209.05 L436.67,207.70 L437.00,206.29 L437.32,204.83 L437.65,203.34 L437.97,201.84 L438.30,200.33 L438.62,198.83 L438.95,197.35 L439.27,195.91 L439.60,194.52 L439.92,193.19 L440.25,191.93 L440.57,190.76 L440.90,189.69 L441.22,188.72 L441.55,187.87 L441.87,187.14 L442.20,186.53 L442.52,186.06 L442.84,185.73 L443.17,185.54 L443.49,185.49 L443.82,185.59 L444.14,185.82 L444.47,186.20 L444.79,186.70 L445.12,187.34 L445.44,188.11 L445.77,188.99 L446.09,189.97 L446.42,191.06 L446.74,192.24 L447.07,193.49 L447.39,194.82 L447.72,196.19 L448.04,197.61 L448.37,199.06 L448.69,200.52 L449.01,201.99 L449.34,203.44 L449.66,204.87 L449.99,206.26 L450.31,207.60 L450.64,208.88 L450.96,210.08 L451.29,211.20 L451.61,212.23 L451.94,213.15 L452.26,213.96 L452.59,214.65 L452.91,215.21 L453.24,215.64 L453.56,215.94 L453.89,216.10 L454.21,216.13 L454.54,216.01 L454.86,215.76 L455.18,215.37 L455.51,214.86 L455.83,214.22 L456.16,213.46 L456.48,212.58 L456.81,211.61 L457.13,210.54 L457.46,209.38 L457.78,208.15 L458.11,206.86 L458.43,205.51 L458.76,204.13 L459.08,202.72 L459.41,201.30 L459.73,199.88 L460.06,198.47 L460.38,197.08 L460.70,195.74 L461.03,194.45 L461.35,193.22 L461.68,192.06 L462.00,190.99 L462.33,190.01 L462.65,189.13 L462.98,188.37 L463.30,187.72 L463.63,187.19 L463.95,186.79 L464.28,186.53 L464.60,186.39 L464.93,186.39 L465.25,186.53 L465.58,186.79 L465.90,187.19 L466.23,187.71 L466.55,188.35 L466.87,189.11 L467.20,189.98 L467.52,190.94 L467.85,192.00 L468.17,193.14 L468.50,194.34 L468.82,195.61 L469.15,196.93 L469.47,198.28 L469.80,199.65 L470.12,201.03 L470.45,202.41 L470.77,203.78 L471.10,205.12 L471.42,206.41 L471.75,207.66 L472.07,208.85 L472.40,209.96 L472.72,210.99 L473.04,211.92 L473.37,212.76 L473.69,213.48 L474.02,214.09 L474.34,214.58 L474.67,214.95 L474.99,215.19 L475.32,215.30 L475.64,215.27 L475.97,215.12 L476.29,214.84 L476.62,214.43 L476.94,213.90 L477.27,213.26 L477.59,212.50 L477.92,211.64 L478.24,210.69 L478.56,209.65 L478.89,208.53 L479.21,207.34 L479.54,206.10 L479.86,204.82 L480.19,203.50 L480.51,202.16 L480.84,200.82 L481.16,199.47 L481.49,198.15 L481.81,196.85 L482.14,195.60 L482.46,194.39 L482.79,193.25 L483.11,192.18 L483.44,191.20 L483.76,190.30 L484.09,189.51 L484.41,188.82 L484.73,188.24 L485.06,187.79 L485.38,187.45 L485.71,187.24 L486.03,187.16 L486.36,187.20 L486.68,187.37 L487.01,187.67 L487.33,188.08 L487.66,188.62 L487.98,189.26 L488.31,190.02 L488.63,190.87 L488.96,191.82 L489.28,192.84 L489.61,193.95 L489.93,195.11 L490.26,196.33 L490.58,197.58 L490.90,198.87 L491.23,200.18 L491.55,201.49 L491.88,202.79 L492.20,204.08 L492.53,205.33 L492.85,206.55 L493.18,207.71 L493.50,208.81 L493.83,209.84 L494.15,210.79 L494.48,211.64 L494.80,212.40 L495.13,213.05 L495.45,213.59 L495.78,214.01 L496.10,214.32 L496.43,214.50 L496.75,214.56 L497.07,214.50 L497.40,214.31 L497.72,214.01 L498.05,213.58 L498.37,213.04 L498.70,212.39 L499.02,211.64 L499.35,210.79 L499.67,209.86 L500.00,208.84 L500.32,207.76 L500.65,206.62 L500.97,205.42 L501.30,204.19 L501.62,202.93 L501.95,201.66 L502.27,200.38 L502.59,199.11 L502.92,197.86 L503.24,196.64 L503.57,195.47 L503.89,194.34 L504.22,193.28 L504.54,192.29 L504.87,191.39 L505.19,190.57 L505.52,189.85 L505.84,189.23 L506.17,188.73 L506.49,188.33 L506.82,188.05 L507.14,187.90 L507.47,187.86 L507.79,187.94 L508.12,188.14 L508.44,188.46 L508.76,188.90 L509.09,189.44 L509.41,190.09 L509.74,190.84 L510.06,191.68 L510.39,192.61 L510.71,193.61 L511.04,194.68 L511.36,195.80 L511.69,196.97 L512.01,198.18 L512.34,199.41 L512.66,200.65 L512.99,201.90 L513.31,203.13 L513.64,204.35 L513.96,205.53 L514.29,206.67 L514.61,207.76 L514.93,208.78 L515.26,209.73 L515.58,210.60 L515.91,211.38 L516.23,212.07 L516.56,212.65 L516.88,213.13 L517.21,213.49 L517.53,213.74 L517.86,213.88 L518.18,213.90 L518.51,213.80 L518.83,213.58 L519.16,213.25 L519.48,212.80 L519.81,212.25 L520.13,211.60 L520.46,210.86 L520.78,210.02 L521.10,209.10 L521.43,208.11 L521.75,207.06 L522.08,205.96 L522.40,204.81 L522.73,203.63 L523.05,202.42 L523.38,201.21 L523.70,199.99 L524.03,198.79 L524.35,197.61 L524.68,196.46 L525.00,195.36 L525.33,194.31 L525.65,193.32 L525.98,192.40 L526.30,191.57 L526.62,190.82 L526.95,190.17 L527.27,189.62 L527.60,189.17 L527.92,188.83 L528.25,188.61 L528.57,188.49 L528.90,188.50 L529.22,188.62 L529.55,188.85 L529.87,189.19 L530.20,189.64 L530.52,190.19 L530.85,190.85 L531.17,191.59 L531.50,192.42 L531.82,193.33 L532.15,194.31 L532.47,195.34 L532.79,196.43 L533.12,197.56 L533.44,198.72 L533.77,199.90 L534.09,201.08 L534.42,202.27 L534.74,203.44 L535.07,204.59 L535.39,205.70 L535.72,206.77 L536.04,207.79 L536.37,208.74 L536.69,209.62 L537.02,210.42 L537.34,211.14 L537.67,211.76 L537.99,212.28 L538.32,212.70 L538.64,213.01 L538.96,213.21 L539.29,213.30 L539.61,213.28 L539.94,213.15 L540.26,212.90 L540.59,212.55 L540.91,212.09 L541.24,211.53 L541.56,210.88 L541.89,210.14 L542.21,209.31 L542.54,208.41 L542.86,207.45 L543.19,206.43 L543.51,205.35 L543.84,204.25 L544.16,203.11 L544.48,201.96 L544.81,200.80 L545.13,199.64 L545.46,198.50 L545.78,197.38 L546.11,196.30 L546.43,195.26 L546.76,194.28 L547.08,193.36 L547.41,192.51 L547.73,191.74 L548.06,191.06 L548.38,190.47 L548.71,189.97 L549.03,189.58 L549.36,189.30 L549.68,189.12 L550.01,189.05 L550.33,189.09 L550.65,189.24 L550.98,189.50 L551.30,189.86 L551.63,190.32 L551.95,190.89 L552.28,191.54 L552.60,192.28 L552.93,193.10 L553.25,193.99 L553.58,194.95 L553.90,195.95 L554.23,197.01 L554.55,198.10 L554.88,199.21 L555.20,200.34 L555.53,201.48 L555.85,202.60 L556.18,203.72 L556.50,204.81 L556.82,205.86 L557.15,206.86 L557.47,207.81 L557.80,208.70 L558.12,209.52 L558.45,210.26 L558.77,210.91 L559.10,211.47 L559.42,211.94 L559.75,212.30 L560.07,212.57 L560.40,212.72 L560.72,212.77 L561.05,212.71 L561.37,212.55 L561.70,212.28 L562.02,211.90 L562.35,211.43 L562.67,210.87 L562.99,210.21 L563.32,209.47 L563.64,208.66 L563.97,207.78 L564.29,206.83 L564.62,205.84 L564.94,204.80 L565.27,203.73 L565.59,202.64 L565.92,201.53 L566.24,200.42 L566.57,199.32 L566.89,198.23 L567.22,197.17 L567.54,196.15 L567.87,195.18 L568.19,194.26 L568.51,193.40 L568.84,192.61 L569.16,191.90 L569.49,191.28 L569.81,190.75 L570.14,190.31 L570.46,189.97 L570.79,189.73 L571.11,189.59 L571.44,189.56 L571.76,189.64 L572.09,189.82 L572.41,190.10 L572.74,190.48 L573.06,190.96 L573.39,191.53 L573.71,192.18 L574.04,192.92 L574.36,193.73 L574.68,194.60 L575.01,195.53 L575.33,196.52 L575.66,197.54 L575.98,198.59 L576.31,199.66 L576.63,200.75 L576.96,201.83 L577.28,202.91 L577.61,203.97 L577.93,205.00 L578.26,205.99 L578.58,206.94 L578.91,207.83 L579.23,208.66 L579.56,209.42 L579.88,210.10 L580.21,210.69 L580.53,211.20 L580.85,211.61 L581.18,211.93 L581.50,212.15 L581.83,212.26 L582.15,212.27 L582.48,212.18 L582.80,211.99 L583.13,211.70 L583.45,211.31 L583.78,210.82 L584.10,210.25 L584.43,209.59 L584.75,208.86 L585.08,208.06 L585.40,207.19 L585.73,206.27 L586.05,205.30 L586.37,204.29 L586.70,203.26 L587.02,202.20 L587.35,201.14 L587.67,200.08 L588.00,199.02 L588.32,197.99 L588.65,196.99 L588.97,196.02 L589.30,195.10 L589.62,194.24 L589.95,193.44 L590.27,192.71 L590.60,192.06 L590.92,191.49 L591.25,191.01 L591.57,190.62 L591.90,190.33 L592.22,190.13 L592.54,190.04 L592.87,190.04 L593.19,190.15 L593.52,190.36 L593.84,190.66 L594.17,191.06 L594.49,191.55 L594.82,192.12 L595.14,192.78 L595.47,193.51 L595.79,194.31 L596.12,195.17 L596.44,196.08 L596.77,197.04 L597.09,198.03 L597.42,199.05 L597.74,200.08 L598.07,201.12 L598.39,202.16 L598.71,203.19 L599.04,204.20 L599.36,205.18 L599.69,206.12 L600.01,207.01 L600.34,207.84 L600.66,208.62 L600.99,209.32 L601.31,209.94 L601.64,210.49 L601.96,210.94 L602.29,211.31 L602.61,211.58 L602.94,211.75 L603.26,211.83 L603.59,211.81 L603.91,211.68 L604.24,211.47 L604.56,211.15 L604.88,210.75 L605.21,210.25 L605.53,209.67 L605.86,209.02 L606.18,208.29 L606.51,207.50 L606.83,206.64 L607.16,205.74 L607.48,204.80 L607.81,203.82 L608.13,202.82 L608.46,201.80 L608.78,200.78 L609.11,199.76 L609.43,198.76 L609.76,197.77 L610.08,196.82 L610.40,195.91 L610.73,195.04 L611.05,194.23 L611.38,193.49 L611.70,192.81 L612.03,192.21 L612.35,191.69 L612.68,191.26 L613.00,190.92 L613.33,190.67 L613.65,190.52 L613.98,190.46 L614.30,190.50 L614.63,190.63 L614.95,190.86 L615.28,191.19 L615.60,191.60 L615.93,192.10 L616.25,192.68 L616.57,193.34 L616.90,194.06 L617.22,194.85 L617.55,195.69 L617.87,196.59 L618.20,197.52 L618.52,198.48 L618.85,199.47 L619.17,200.47 L619.50,201.47 L619.82,202.47 L620.15,203.45 L620.47,204.41 L620.80,205.34 L621.12,206.23 L621.45,207.07 L621.77,207.85 L622.10,208.57 L622.42,209.22 L622.74,209.79 L623.07,210.29 L623.39,210.70 L623.72,211.02 L624.04,211.25 L624.37,211.38 L624.69,211.42 L625.02,211.37 L625.34,211.22 L625.67,210.97 L625.99,210.64 L626.32,210.22 L626.64,209.72 L626.97,209.14 L627.29,208.48 L627.62,207.76 L627.94,206.97 L628.27,206.14 L628.59,205.25 L628.91,204.33 L629.24,203.38 L629.56,202.41 L629.89,201.43 L630.21,200.45 L630.54,199.47 L630.86,198.51 L631.19,197.57 L631.51,196.67 L631.84,195.80 L632.16,194.99 L632.49,194.23 L632.81,193.54 L633.14,192.91 L633.46,192.36 L633.79,191.89 L634.11,191.50 L634.43,191.20 L634.76,190.99 L635.08,190.88 L635.41,190.86 L635.73,190.93 L636.06,191.09 L636.38,191.34 L636.71,191.68 L637.03,192.11 L637.36,192.62 L637.68,193.20 L638.01,193.86 L638.33,194.58 L638.66,195.36 L638.98,196.19 L639.31,197.06 L639.63,197.97 L639.96,198.90 L640.28,199.86 L640.60,200.82 L640.93,201.79 L641.25,202.74 L641.58,203.69 L641.90,204.60 L642.23,205.48 L642.55,206.32 L642.88,207.11 L643.20,207.85 L643.53,208.52 L643.85,209.12 L644.18,209.65 L644.50,210.10 L644.83,210.46 L645.15,210.74 L645.48,210.93 L645.80,211.03 L646.13,211.03 L646.45,210.95 L646.77,210.77 L647.10,210.51 L647.42,210.16 L647.75,209.73 L648.07,209.22 L648.40,208.63 L648.72,207.97 L649.05,207.26 L649.37,206.48 L649.70,205.66 L650.02,204.80 L650.35,203.90 L650.67,202.98 L651.00,202.04 L651.32,201.09 L651.65,200.14 L651.97,199.20 L652.29,198.28 L652.62,197.39 L652.94,196.53 L653.27,195.71 L653.59,194.95 L653.92,194.24 L654.24,193.59 L654.57,193.01 L654.89,192.50 L655.22,192.08 L655.54,191.73 L655.87,191.48 L656.19,191.30 L656.52,191.22 L656.84,191.23 L657.17,191.33 L657.49,191.52 L657.82,191.79 L658.14,192.15 L658.46,192.59 L658.79,193.10 L659.11,193.69 L659.44,194.35 L659.76,195.06 L660.09,195.83 L660.41,196.65 L660.74,197.50 L661.06,198.39 L661.39,199.30 L661.71,200.22 L662.04,201.15 L662.36,202.08 L662.69,203.00 L663.01,203.90 L663.34,204.77 L663.66,205.61 L663.99,206.41 L664.31,207.15 L664.63,207.84 L664.96,208.47 L665.28,209.02 L665.61,209.50 L665.93,209.91" stroke="#ff8000" stroke-width="3" fill="none" stroke-linejoin="round"/><path d="M132.50,30.61 L133.83,33.65 L135.17,36.63 L136.50,39.57 L137.83,42.45 L139.17,45.28 L140.50,48.05 L141.83,50.78 L143.17,53.46 L144.50,56.09 L145.83,58.68 L147.17,61.22 L148.50,63.71 L149.83,66.16 L151.17,68.56 L152.50,70.93 L153.83,73.25 L155.17,75.52 L156.50,77.76 L157.83,79.96 L159.17,82.12 L160.50,84.24 L161.83,86.32 L163.16,88.36 L164.50,90.37 L165.83,92.34 L167.16,94.28 L168.50,96.18 L169.83,98.05 L171.16,99.88 L172.50,101.68 L173.83,103.45 L175.16,105.19 L176.50,106.90 L177.83,108.57 L179.16,110.22 L180.50,111.83 L181.83,113.42 L183.16,114.98 L184.50,116.51 L185.83,118.02 L187.16,119.49 L188.50,120.95 L189.83,122.37 L191.16,123.77 L192.50,125.14 L193.83,126.49 L195.16,127.82 L196.50,129.12 L197.83,130.40 L199.16,131.66 L200.50,132.89 L201.83,134.10 L203.16,135.29 L204.50,136.46 L205.83,137.61 L207.16,138.73 L208.50,139.84 L209.83,140.93 L211.16,141.99 L212.50,143.04 L213.83,144.07 L215.16,145.08 L216.50,146.08 L217.83,147.05 L219.16,148.01 L220.50,148.95 L221.83,149.87 L223.16,150.78 L224.49,151.67 L225.83,152.55 L227.16,153.41 L228.49,154.25 L229.83,155.08 L231.16,155.89 L232.49,156.69 L233.83,157.48 L235.16,158.25 L236.49,159.01 L237.83,159.75 L239.16,160.48 L240.49,161.20 L241.83,161.91 L243.16,162.60 L244.49,163.28 L245.83,163.95 L247.16,164.60 L248.49,165.24 L249.83,165.88 L251.16,166.50 L252.49,167.11 L253.83,167.71 L255.16,168.30 L256.49,168.87 L257.83,169.44 L259.16,170.00 L260.49,170.55 L261.83,171.08 L263.16,171.61 L264.49,172.13 L265.83,172.64 L267.16,173.14 L268.49,173.63 L269.83,174.11 L271.16,174.59 L272.49,175.05 L273.83,175.51 L275.16,175.96 L276.49,176.40 L277.83,176.83 L279.16,177.26 L280.49,177.68 L281.83,178.09 L283.16,178.49 L284.49,178.88 L285.82,179.27 L287.16,179.65 L288.49,180.03 L289.82,180.40 L291.16,180.76 L292.49,181.11 L293.82,181.46 L295.16,181.80 L296.49,182.14 L297.82,182.47 L299.16,182.80 L300.49,183.11 L301.82,183.43 L303.16,183.73 L304.49,184.04 L305.82,184.33 L307.16,184.62 L308.49,184.91 L309.82,185.19 L311.16,185.47 L312.49,185.74 L313.82,186.00 L315.16,186.26 L316.49,186.52 L317.82,186.77 L319.16,187.02 L320.49,187.26 L321.82,187.50 L323.16,187.74 L324.49,187.97 L325.82,188.19 L327.16,188.41 L328.49,188.63 L329.82,188.85 L331.16,189.06 L332.49,189.26 L333.82,189.47 L335.16,189.66 L336.49,189.86 L337.82,190.05 L339.16,190.24 L340.49,190.43 L341.82,190.61 L343.16,190.79 L344.49,190.96 L345.82,191.14 L347.15,191.30 L348.49,191.47 L349.82,191.63 L351.15,191.80 L352.49,191.95 L353.82,192.11 L355.15,192.26 L356.49,192.41 L357.82,192.56 L359.15,192.70 L360.49,192.84 L361.82,192.98 L363.15,193.12 L364.49,193.25 L365.82,193.38 L367.15,193.51 L368.49,193.64 L369.82,193.76 L371.15,193.88 L372.49,194.00 L373.82,194.12 L375.15,194.24 L376.49,194.35 L377.82,194.46 L379.15,194.57 L380.49,194.68 L381.82,194.79 L383.15,194.89 L384.49,194.99 L385.82,195.09 L387.15,195.19 L388.49,195.29 L389.82,195.39 L391.15,195.48 L392.49,195.57 L393.82,195.66 L395.15,195.75 L396.49,195.84 L397.82,195.92 L399.15,196.00 L400.49,196.09 L401.82,196.17 L403.15,196.25 L404.49,196.33 L405.82,196.40 L407.15,196.48 L408.48,196.55 L409.82,196.62 L411.15,196.69 L412.48,196.76 L413.82,196.83 L415.15,196.90 L416.48,196.97 L417.82,197.03 L419.15,197.10 L420.48,197.16 L421.82,197.22 L423.15,197.28 L424.48,197.34 L425.82,197.40 L427.15,197.46 L428.48,197.51 L429.82,197.57 L431.15,197.62 L432.48,197.68 L433.82,197.73 L435.15,197.78 L436.48,197.83 L437.82,197.88 L439.15,197.93 L440.48,197.98 L441.82,198.02 L443.15,198.07 L444.48,198.11 L445.82,198.16 L447.15,198.20 L448.48,198.25 L449.82,198.29 L451.15,198.33 L452.48,198.37 L453.82,198.41 L455.15,198.45 L456.48,198.49 L457.82,198.53 L459.15,198.56 L460.48,198.60 L461.82,198.64 L463.15,198.67 L464.48,198.71 L465.81,198.74 L467.15,198.77 L468.48,198.81 L469.81,198.84 L471.15,198.87 L472.48,198.90 L473.81,198.93 L475.15,198.96 L476.48,198.99 L477.81,199.02 L479.15,199.05 L480.48,199.08 L481.81,199.10 L483.15,199.13 L484.48,199.16 L485.81,199.18 L487.15,199.21 L488.48,199.23 L489.81,199.26 L491.15,199.28 L492.48,199.30 L493.81,199.33 L495.15,199.35 L496.48,199.37 L497.81,199.40 L499.15,199.42 L500.48,199.44 L501.81,199.46 L503.15,199.48 L504.48,199.50 L505.81,199.52 L507.15,199.54 L508.48,199.56 L509.81,199.58 L511.15,199.59 L512.48,199.61 L513.81,199.63 L515.15,199.65 L516.48,199.67 L517.81,199.68 L519.15,199.70 L520.48,199.71 L521.81,199.73 L523.15,199.75 L524.48,199.76 L525.81,199.78 L527.14,199.79 L528.48,199.81 L529.81,199.82 L531.14,199.83 L532.48,199.85 L533.81,199.86 L535.14,199.88 L536.48,199.89 L537.81,199.90 L539.14,199.91 L540.48,199.93 L541.81,199.94 L543.14,199.95 L544.48,199.96 L545.81,199.97 L547.14,199.98 L548.48,200.00 L549.81,200.01 L551.14,200.02 L552.48,200.03 L553.81,200.04 L555.14,200.05 L556.48,200.06 L557.81,200.07 L559.14,200.08 L560.48,200.09 L561.81,200.10 L563.14,200.11 L564.48,200.11 L565.81,200.12 L567.14,200.13 L568.48,200.14 L569.81,200.15 L571.14,200.16 L572.48,200.16 L573.81,200.17 L575.14,200.18 L576.48,200.19 L577.81,200.20 L579.14,200.20 L580.48,200.21 L581.81,200.22 L583.14,200.22 L584.48,200.23 L585.81,200.24 L587.14,200.24 L588.47,200.25 L589.81,200.26 L591.14,200.26 L592.47,200.27 L593.81,200.28 L595.14,200.28 L596.47,200.29 L597.81,200.29 L599.14,200.30 L600.47,200.30 L601.81,200.31 L603.14,200.31 L604.47,200.32 L605.81,200.32 L607.14,200.33 L608.47,200.33 L609.81,200.34 L611.14,200.34 L612.47,200.35 L613.81,200.35 L615.14,200.36 L616.47,200.36 L617.81,200.37 L619.14,200.37 L620.47,200.38 L621.81,200.38 L623.14,200.38 L624.47,200.39 L625.81,200.39 L627.14,200.39 L628.47,200.40 L629.81,200.40 L631.14,200.41 L632.47,200.41 L633.81,200.41 L635.14,200.42 L636.47,200.42 L637.81,200.42 L639.14,200.43 L640.47,200.43 L641.81,200.43 L643.14,200.44 L644.47,200.44 L645.81,200.44 L647.14,200.44 L648.47,200.45 L649.80,200.45 L651.14,200.45 L652.47,200.46 L653.80,200.46 L655.14,200.46 L656.47,200.46 L657.80,200.47 L659.14,200.47 L660.47,200.47 L661.80,200.47 L663.14,200.48 L664.47,200.48 L665.80,200.48" stroke="#0000a8" stroke-width="3" fill="none" stroke-dasharray="9.8 5.2"/><path d="M132.50,30.61 L133.83,38.04 L135.17,44.85 L136.50,51.11 L137.83,56.88 L139.17,62.21 L140.50,67.17 L141.83,71.77 L143.17,76.06 L144.50,80.06 L145.83,83.80 L147.17,87.30 L148.50,90.58 L149.83,93.66 L151.17,96.56 L152.50,99.28 L153.83,101.84 L155.17,104.26 L156.50,106.55 L157.83,108.71 L159.17,110.75 L160.50,112.70 L161.83,114.54 L163.16,116.30 L164.50,117.97 L165.83,119.57 L167.16,121.10 L168.50,122.56 L169.83,123.97 L171.16,125.32 L172.50,126.61 L173.83,127.86 L175.16,129.07 L176.50,130.23 L177.83,131.36 L179.16,132.45 L180.50,133.50 L181.83,134.52 L183.16,135.51 L184.50,136.48 L185.83,137.42 L187.16,138.33 L188.50,139.21 L189.83,140.08 L191.16,140.92 L192.50,141.74 L193.83,142.54 L195.16,143.32 L196.50,144.09 L197.83,144.83 L199.16,145.56 L200.50,146.27 L201.83,146.97 L203.16,147.65 L204.50,148.32 L205.83,148.97 L207.16,149.61 L208.50,150.23 L209.83,150.85 L211.16,151.45 L212.50,152.03 L213.83,152.61 L215.16,153.17 L216.50,153.72 L217.83,154.27 L219.16,154.80 L220.50,155.32 L221.83,155.83 L223.16,156.33 L224.49,156.82 L225.83,157.30 L227.16,157.77 L228.49,158.23 L229.83,158.69 L231.16,159.13 L232.49,159.57 L233.83,160.00 L235.16,160.42 L236.49,160.83 L237.83,161.24 L239.16,161.64 L240.49,162.03 L241.83,162.41 L243.16,162.79 L244.49,163.16 L245.83,163.53 L247.16,163.88 L248.49,164.24 L249.83,164.58 L251.16,164.92 L252.49,165.25 L253.83,165.58 L255.16,165.90 L256.49,166.22 L257.83,166.53 L259.16,166.84 L260.49,167.14 L261.83,167.43 L263.16,167.72 L264.49,168.01 L265.83,168.29 L267.16,168.57 L268.49,168.84 L269.83,169.11 L271.16,169.37 L272.49,169.63 L273.83,169.88 L275.16,170.13 L276.49,170.38 L277.83,170.62 L279.16,170.86 L280.49,171.10 L281.83,171.33 L283.16,171.56 L284.49,171.78 L285.82,172.01 L287.16,172.22 L288.49,172.44 L289.82,172.65 L291.16,172.86 L292.49,173.06 L293.82,173.27 L295.16,173.47 L296.49,173.66 L297.82,173.86 L299.16,174.05 L300.49,174.24 L301.82,174.42 L303.16,174.60 L304.49,174.78 L305.82,174.96 L307.16,175.14 L308.49,175.31 L309.82,175.48 L311.16,175.65 L312.49,175.82 L313.82,175.98 L315.16,176.14 L316.49,176.30 L317.82,176.46 L319.16,176.61 L320.49,176.77 L321.82,176.92 L323.16,177.07 L324.49,177.21 L325.82,177.36 L327.16,177.50 L328.49,177.64 L329.82,177.78 L331.16,177.92 L332.49,178.06 L333.82,178.19 L335.16,178.33 L336.49,178.46 L337.82,178.59 L339.16,178.72 L340.49,178.84 L341.82,178.97 L343.16,179.09 L344.49,179.21 L345.82,179.34 L347.15,179.46 L348.49,179.57 L349.82,179.69 L351.15,179.81 L352.49,179.92 L353.82,180.03 L355.15,180.14 L356.49,180.25 L357.82,180.36 L359.15,180.47 L360.49,180.58 L361.82,180.68 L363.15,180.79 L364.49,180.89 L365.82,180.99 L367.15,181.09 L368.49,181.19 L369.82,181.29 L371.15,181.39 L372.49,181.49 L373.82,181.58 L375.15,181.68 L376.49,181.77 L377.82,181.86 L379.15,181.96 L380.49,182.05 L381.82,182.14 L383.15,182.23 L384.49,182.31 L385.82,182.40 L387.15,182.49 L388.49,182.57 L389.82,182.66 L391.15,182.74 L392.49,182.82 L393.82,182.91 L395.15,182.99 L396.49,183.07 L397.82,183.15 L399.15,183.23 L400.49,183.31 L401.82,183.38 L403.15,183.46 L404.49,183.54 L405.82,183.61 L407.15,183.69 L408.48,183.76 L409.82,183.84 L411.15,183.91 L412.48,183.98 L413.82,184.05 L415.15,184.12 L416.48,184.19 L417.82,184.26 L419.15,184.33 L420.48,184.40 L421.82,184.47 L423.15,184.54 L424.48,184.60 L425.82,184.67 L427.15,184.73 L428.48,184.80 L429.82,184.86 L431.15,184.93 L432.48,184.99 L433.82,185.05 L435.15,185.11 L436.48,185.18 L437.82,185.24 L439.15,185.30 L440.48,185.36 L441.82,185.42 L443.15,185.48 L444.48,185.54 L445.82,185.59 L447.15,185.65 L448.48,185.71 L449.82,185.77 L451.15,185.82 L452.48,185.88 L453.82,185.93 L455.15,185.99 L456.48,186.04 L457.82,186.10 L459.15,186.15 L460.48,186.21 L461.82,186.26 L463.15,186.31 L464.48,186.36 L465.81,186.42 L467.15,186.47 L468.48,186.52 L469.81,186.57 L471.15,186.62 L472.48,186.67 L473.81,186.72 L475.15,186.77 L476.48,186.82 L477.81,186.86 L479.15,186.91 L480.48,186.96 L481.81,187.01 L483.15,187.05 L484.48,187.10 L485.81,187.15 L487.15,187.19 L488.48,187.24 L489.81,187.28 L491.15,187.33 L492.48,187.37 L493.81,187.42 L495.15,187.46 L496.48,187.51 L497.81,187.55 L499.15,187.59 L500.48,187.64 L501.81,187.68 L503.15,187.72 L504.48,187.76 L505.81,187.80 L507.15,187.85 L508.48,187.89 L509.81,187.93 L511.15,187.97 L512.48,188.01 L513.81,188.05 L515.15,188.09 L516.48,188.13 L517.81,188.17 L519.15,188.21 L520.48,188.25 L521.81,188.28 L523.15,188.32 L524.48,188.36 L525.81,188.40 L527.14,188.44 L528.48,188.47 L529.81,188.51 L531.14,188.55 L532.48,188.58 L533.81,188.62 L535.14,188.66 L536.48,188.69 L537.81,188.73 L539.14,188.76 L540.48,188.80 L541.81,188.83 L543.14,188.87 L544.48,188.90 L545.81,188.94 L547.14,188.97 L548.48,189.01 L549.81,189.04 L551.14,189.07 L552.48,189.11 L553.81,189.14 L555.14,189.17 L556.48,189.21 L557.81,189.24 L559.14,189.27 L560.48,189.30 L561.81,189.34 L563.14,189.37 L564.48,189.40 L565.81,189.43 L567.14,189.46 L568.48,189.49 L569.81,189.52 L571.14,189.56 L572.48,189.59 L573.81,189.62 L575.14,189.65 L576.48,189.68 L577.81,189.71 L579.14,189.74 L580.48,189.77 L581.81,189.79 L583.14,189.82 L584.48,189.85 L585.81,189.88 L587.14,189.91 L588.47,189.94 L589.81,189.97 L591.14,190.00 L592.47,190.02 L593.81,190.05 L595.14,190.08 L596.47,190.11 L597.81,190.14 L599.14,190.16 L600.47,190.19 L601.81,190.22 L603.14,190.24 L604.47,190.27 L605.81,190.30 L607.14,190.32 L608.47,190.35 L609.81,190.38 L611.14,190.40 L612.47,190.43 L613.81,190.45 L615.14,190.48 L616.47,190.50 L617.81,190.53 L619.14,190.56 L620.47,190.58 L621.81,190.61 L623.14,190.63 L624.47,190.66 L625.81,190.68 L627.14,190.70 L628.47,190.73 L629.81,190.75 L631.14,190.78 L632.47,190.80 L633.81,190.82 L635.14,190.85 L636.47,190.87 L637.81,190.90 L639.14,190.92 L640.47,190.94 L641.81,190.97 L643.14,190.99 L644.47,191.01 L645.81,191.03 L647.14,191.06 L648.47,191.08 L649.80,191.10 L651.14,191.12 L652.47,191.15 L653.80,191.17 L655.14,191.19 L656.47,191.21 L657.80,191.24 L659.14,191.26 L660.47,191.28 L661.80,191.30 L663.14,191.32 L664.47,191.34 L665.80,191.36" stroke="#ff8000" stroke-width="3" fill="none" stroke-dasharray="9.8 5.2"/><g fill="#000"><circle cx="151.60" cy="208.60" r="2.6"/><circle cx="157.50" cy="276.70" r="2.6"/><circle cx="161.50" cy="174.60" r="2.6"/><circle cx="166.90" cy="110.30" r="2.6"/><circle cx="172.40" cy="224.00" r="2.6"/><circle cx="178.40" cy="259.80" r="2.6"/><circle cx="182.30" cy="170.70" r="2.6"/><circle cx="188.20" cy="123.50" r="2.6"/><circle cx="193.70" cy="193.90" r="2.6"/><circle cx="197.70" cy="250.30" r="2.6"/><circle cx="203.20" cy="195.50" r="2.6"/><circle cx="209.10" cy="147.80" r="2.6"/><circle cx="214.40" cy="207.00" r="2.6"/><circle cx="219.10" cy="248.80" r="2.6"/><circle cx="224.40" cy="201.30" r="2.6"/><circle cx="230.10" cy="153.90" r="2.6"/><circle cx="233.80" cy="195.20" r="2.6"/><circle cx="239.40" cy="240.80" r="2.6"/><circle cx="245.10" cy="216.50" r="2.6"/><circle cx="251.10" cy="152.00" r="2.6"/><circle cx="254.80" cy="187.90" r="2.6"/><circle cx="260.30" cy="229.60" r="2.6"/><circle cx="266.30" cy="216.40" r="2.6"/><circle cx="270.10" cy="178.40" r="2.6"/><circle cx="275.80" cy="184.20" r="2.6"/><circle cx="281.50" cy="223.90" r="2.6"/><circle cx="287.20" cy="218.10" r="2.6"/><circle cx="291.00" cy="174.30" r="2.6"/><circle cx="296.80" cy="180.70" r="2.6"/><circle cx="302.20" cy="223.90" r="2.6"/><circle cx="308.20" cy="214.30" r="2.6"/><circle cx="311.80" cy="188.00" r="2.6"/><circle cx="317.60" cy="169.10" r="2.6"/><circle cx="323.40" cy="220.00" r="2.6"/><circle cx="327.50" cy="223.90" r="2.6"/><circle cx="332.90" cy="182.20" r="2.6"/><circle cx="338.80" cy="189.80" r="2.6"/><circle cx="344.50" cy="209.20" r="2.6"/><circle cx="348.00" cy="218.40" r="2.6"/><circle cx="354.00" cy="199.30" r="2.6"/><circle cx="359.50" cy="188.00" r="2.6"/><circle cx="363.30" cy="207.10" r="2.6"/><circle cx="368.90" cy="210.50" r="2.6"/><circle cx="374.80" cy="197.40" r="2.6"/><circle cx="380.50" cy="186.40" r="2.6"/><circle cx="384.30" cy="197.40" r="2.6"/><circle cx="390.20" cy="218.40" r="2.6"/><circle cx="395.70" cy="199.30" r="2.6"/><circle cx="401.40" cy="180.40" r="2.6"/><circle cx="405.20" cy="203.30" r="2.6"/><circle cx="411.00" cy="216.50" r="2.6"/><circle cx="416.70" cy="195.50" r="2.6"/><circle cx="420.50" cy="189.80" r="2.6"/><circle cx="426.20" cy="199.30" r="2.6"/><circle cx="431.90" cy="220.30" r="2.6"/><circle cx="437.60" cy="201.20" r="2.6"/><circle cx="441.50" cy="189.80" r="2.6"/><circle cx="447.20" cy="199.30" r="2.6"/><circle cx="453.10" cy="208.90" r="2.6"/><circle cx="456.80" cy="202.90" r="2.6"/><circle cx="462.40" cy="189.80" r="2.6"/><circle cx="468.30" cy="189.80" r="2.6"/><circle cx="473.90" cy="218.40" r="2.6"/><circle cx="477.70" cy="214.60" r="2.6"/><circle cx="483.40" cy="187.90" r="2.6"/><circle cx="489.10" cy="197.40" r="2.6"/><circle cx="492.90" cy="216.50" r="2.6"/><circle cx="498.60" cy="216.50" r="2.6"/><circle cx="504.30" cy="187.90" r="2.6"/><circle cx="510.10" cy="199.30" r="2.6"/><circle cx="513.90" cy="208.90" r="2.6"/><circle cx="519.60" cy="210.80" r="2.6"/><circle cx="525.40" cy="197.40" r="2.6"/><circle cx="531.10" cy="195.50" r="2.6"/><circle cx="535.00" cy="203.10" r="2.6"/><circle cx="540.70" cy="218.40" r="2.6"/><circle cx="546.40" cy="201.20" r="2.6"/><circle cx="550.20" cy="193.60" r="2.6"/><circle cx="555.90" cy="210.80" r="2.6"/><circle cx="561.60" cy="210.80" r="2.6"/><circle cx="567.30" cy="203.10" r="2.6"/><circle cx="571.20" cy="201.20" r="2.6"/><circle cx="576.90" cy="216.50" r="2.6"/><circle cx="582.60" cy="214.60" r="2.6"/><circle cx="586.30" cy="203.10" r="2.6"/><circle cx="592.00" cy="195.50" r="2.6"/><circle cx="597.70" cy="207.00" r="2.6"/><circle cx="603.40" cy="216.50" r="2.6"/><circle cx="607.20" cy="207.00" r="2.6"/><circle cx="612.90" cy="197.40" r="2.6"/><circle cx="618.70" cy="203.10" r="2.6"/><circle cx="624.40" cy="214.50" r="2.6"/><circle cx="628.20" cy="203.10" r="2.6"/><circle cx="633.90" cy="193.60" r="2.6"/><circle cx="639.60" cy="207.00" r="2.6"/><circle cx="643.50" cy="210.70" r="2.6"/><circle cx="649.30" cy="206.90" r="2.6"/><circle cx="655.00" cy="197.60" r="2.6"/><circle cx="660.70" cy="199.30" r="2.6"/><circle cx="664.60" cy="210.50" r="2.6"/></g></g><path d="M132.50,349.00v-3.50M132.50,8.70v3.50M158.42,349.00v-3.50M158.42,8.70v3.50M184.34,349.00v-3.50M184.34,8.70v3.50M210.26,349.00v-3.50M210.26,8.70v3.50M236.18,349.00v-3.50M236.18,8.70v3.50M262.10,349.00v-3.50M262.10,8.70v3.50M288.02,349.00v-3.50M288.02,8.70v3.50M313.94,349.00v-3.50M313.94,8.70v3.50M339.86,349.00v-3.50M339.86,8.70v3.50M365.78,349.00v-3.50M365.78,8.70v3.50M391.70,349.00v-3.50M391.70,8.70v3.50M417.62,349.00v-3.50M417.62,8.70v3.50M443.54,349.00v-3.50M443.54,8.70v3.50M469.46,349.00v-3.50M469.46,8.70v3.50M495.38,349.00v-3.50M495.38,8.70v3.50M521.30,349.00v-3.50M521.30,8.70v3.50M547.22,349.00v-3.50M547.22,8.70v3.50M573.14,349.00v-3.50M573.14,8.70v3.50M599.06,349.00v-3.50M599.06,8.70v3.50M624.98,349.00v-3.50M624.98,8.70v3.50M650.90,349.00v-3.50M650.90,8.70v3.50M132.50,349.00v-6.20M132.50,8.70v6.20M262.10,349.00v-6.20M262.10,8.70v6.20M391.70,349.00v-6.20M391.70,8.70v6.20M521.30,349.00v-6.20M521.30,8.70v6.20M650.90,349.00v-6.20M650.90,8.70v6.20M121.50,345.02h3.50M676.20,345.02h-3.50M121.50,334.15h3.50M676.20,334.15h-3.50M121.50,323.27h3.50M676.20,323.27h-3.50M121.50,312.40h3.50M676.20,312.40h-3.50M121.50,301.52h3.50M676.20,301.52h-3.50M121.50,290.65h3.50M676.20,290.65h-3.50M121.50,279.77h3.50M676.20,279.77h-3.50M121.50,268.90h3.50M676.20,268.90h-3.50M121.50,258.02h3.50M676.20,258.02h-3.50M121.50,247.15h3.50M676.20,247.15h-3.50M121.50,236.28h3.50M676.20,236.28h-3.50M121.50,225.40h3.50M676.20,225.40h-3.50M121.50,214.53h3.50M676.20,214.53h-3.50M121.50,203.65h3.50M676.20,203.65h-3.50M121.50,192.78h3.50M676.20,192.78h-3.50M121.50,181.90h3.50M676.20,181.90h-3.50M121.50,171.03h3.50M676.20,171.03h-3.50M121.50,160.15h3.50M676.20,160.15h-3.50M121.50,149.28h3.50M676.20,149.28h-3.50M121.50,138.40h3.50M676.20,138.40h-3.50M121.50,127.53h3.50M676.20,127.53h-3.50M121.50,116.65h3.50M676.20,116.65h-3.50M121.50,105.78h3.50M676.20,105.78h-3.50M121.50,94.90h3.50M676.20,94.90h-3.50M121.50,84.03h3.50M676.20,84.03h-3.50M121.50,73.15h3.50M676.20,73.15h-3.50M121.50,62.28h3.50M676.20,62.28h-3.50M121.50,51.40h3.50M676.20,51.40h-3.50M121.50,40.53h3.50M676.20,40.53h-3.50M121.50,29.65h3.50M676.20,29.65h-3.50M121.50,18.78h3.50M676.20,18.78h-3.50M121.50,312.40h6.20M676.20,312.40h-6.20M121.50,268.90h6.20M676.20,268.90h-6.20M121.50,225.40h6.20M676.20,225.40h-6.20M121.50,181.90h6.20M676.20,181.90h-6.20M121.50,138.40h6.20M676.20,138.40h-6.20M121.50,94.90h6.20M676.20,94.90h-6.20M121.50,51.40h6.20M676.20,51.40h-6.20" stroke="#000" stroke-width="1.6" stroke-linecap="round" fill="none"/><rect x="121.50" y="8.70" width="554.70" height="340.30" fill="none" stroke="#000" stroke-width="2.1"/><text transform="translate(115.00,17.50) scale(1,1.060)" font-size="26.60" text-anchor="end">0.010</text><text transform="translate(115.00,61.00) scale(1,1.060)" font-size="26.60" text-anchor="end">0.008</text><text transform="translate(115.00,104.50) scale(1,1.060)" font-size="26.60" text-anchor="end">0.006</text><text transform="translate(115.00,148.00) scale(1,1.060)" font-size="26.60" text-anchor="end">0.004</text><text transform="translate(115.00,191.50) scale(1,1.060)" font-size="26.60" text-anchor="end">0.002</text><text transform="translate(115.00,235.00) scale(1,1.060)" font-size="26.60" text-anchor="end">0.000</text><text transform="translate(115.00,278.50) scale(1,1.060)" font-size="26.60" text-anchor="end">0.002</text><path d="M37.1,271.60H51.1" stroke="#000" stroke-width="1.45"/><text transform="translate(115.00,322.00) scale(1,1.060)" font-size="26.60" text-anchor="end">0.004</text><path d="M37.1,315.10H51.1" stroke="#000" stroke-width="1.45"/><text transform="translate(132.90,379.70) scale(1,1.060)" font-size="26.60" text-anchor="middle">0</text><text transform="translate(262.50,379.70) scale(1,1.060)" font-size="26.60" text-anchor="middle">100</text><text transform="translate(392.10,379.70) scale(1,1.060)" font-size="26.60" text-anchor="middle">200</text><text transform="translate(521.70,379.70) scale(1,1.060)" font-size="26.60" text-anchor="middle">300</text><text transform="translate(651.30,379.70) scale(1,1.060)" font-size="26.60" text-anchor="middle">400</text><text transform="translate(338.82,421.20) scale(0.9616,1)" font-size="28.24" style="font-family:'Liberation Serif';font-style:normal">Time</text><text transform="translate(403.84,420.90) scale(0.9443,1)" font-size="27.43" style="font-family:'Liberation Serif';font-style:normal">t</text><text x="418.77" y="420.36" font-size="25.12" style="font-family:'Liberation Serif';font-style:normal">(</text><text transform="translate(425.20,420.70) scale(1.1857,1)" font-size="26.52" style="font-family:'Liberation Serif';font-style:italic">μ</text><text x="440.98" y="420.64" font-size="25.83" style="font-family:'Liberation Serif';font-style:normal">s</text><text transform="translate(451.19,420.36) scale(0.9893,1)" font-size="25.12" style="font-family:'Liberation Serif';font-style:normal">)</text><text transform="translate(18.50,266.67) rotate(-90) scale(0.9648,1)" font-size="27.58" style="font-family:'Liberation Serif';font-style:normal">Amplitude (a.u.)</text><text transform="translate(627.60,50.37) scale(1.0229,1)" font-size="26.01" style="font-family:'Liberation Serif';font-style:normal">(a)</text><rect x="204.1" y="24.4" width="173.2" height="109.4" rx="36" ry="34" fill="none" stroke="#ff8000" stroke-width="1.6"/><rect x="408.6" y="24.4" width="212.9" height="109.3" rx="42" ry="35" fill="none" stroke="#0000a8" stroke-width="1.8"/><g class="go" fill="#ff8000"><text transform="translate(215.15,70.24) scale(0.7985,1)" font-size="26.47" style="font-family:'Liberation Serif';font-style:normal">C</text><text transform="translate(240.29,70.23) scale(1.1000,1)" font-size="27.13" style="font-family:'Liberation Serif';font-style:italic">t</text><text transform="translate(284.08,70.14) scale(0.7805,1)" font-size="26.02" style="font-family:'Liberation Serif';font-style:italic">G</text><text transform="translate(311.10,69.74) scale(1.1000,1)" font-size="25.74" style="font-family:'Liberation Serif';font-style:italic">t</text><text transform="translate(321.90,73.76) scale(1.3091,1)" font-size="33.58" style="font-family:'Liberation Serif';font-style:normal">/</text><text transform="translate(334.01,70.00) scale(1.0448,1)" font-size="24.89" style="font-family:'Liberation Serif';font-style:italic">T</text><text transform="translate(348.05,74.56) scale(0.9164,1)" font-size="16.27" style="font-family:'Liberation Serif';font-style:italic">D</text><text transform="translate(236.72,107.00) scale(0.9292,1)" font-size="25.65" style="font-family:'Liberation Serif';font-style:italic">R</text><text transform="translate(253.00,97.10) scale(1.0267,1)" font-size="15.63" style="font-family:'Liberation Sans';font-style:normal">2</text><text transform="translate(267.13,107.35) scale(0.9315,1)" font-size="22.12" style="font-family:'Liberation Sans';font-style:normal">≈</text><text x="284.37" y="106.97" font-size="23.18" style="font-family:'Liberation Sans';font-style:normal">0.96</text></g><g class="gb" fill="#0000a8"><text transform="translate(418.56,70.64) scale(0.8055,1)" font-size="26.02" style="font-family:'Liberation Serif';font-style:normal">C</text><text transform="translate(443.79,70.63) scale(1.1000,1)" font-size="26.61" style="font-family:'Liberation Serif';font-style:italic">t</text><text transform="translate(484.91,70.13) scale(1.0419,1)" font-size="26.23" style="font-family:'Liberation Serif';font-style:normal">exp</text><text transform="translate(570.81,51.06) scale(1.1000,1)" font-size="24.35" style="font-family:'Liberation Serif';font-style:italic">t</text><text transform="translate(562.05,86.90) scale(1.0552,1)" font-size="24.12" style="font-family:'Liberation Serif';font-style:italic">T</text><text transform="translate(576.15,91.56) scale(0.9077,1)" font-size="16.12" style="font-family:'Liberation Serif';font-style:italic">D</text><text transform="translate(461.51,109.70) scale(0.8967,1)" font-size="25.65" style="font-family:'Liberation Serif';font-style:italic">R</text><text transform="translate(477.32,99.90) scale(1.1570,1)" font-size="15.20" style="font-family:'Liberation Sans';font-style:normal">2</text><text transform="translate(491.81,110.80) scale(0.8833,1)" font-size="24.24" style="font-family:'Liberation Sans';font-style:normal">≈</text><text transform="translate(509.17,110.06) scale(0.9891,1)" font-size="23.60" style="font-family:'Liberation Sans';font-style:normal">0.90</text></g><path d="M238.77,52.12 C230.04,56.44 230.04,69.36 238.77,73.67" fill="none" stroke="#ff8000" stroke-width="1.85" stroke-linecap="round"/><path d="M251.62,52.12 C259.82,56.44 259.82,69.36 251.62,73.67" fill="none" stroke="#ff8000" stroke-width="1.85" stroke-linecap="round"/><path d="M309.27,52.92 C301.74,57.27 301.74,70.33 309.27,74.67" fill="none" stroke="#ff8000" stroke-width="1.85" stroke-linecap="round"/><path d="M362.12,53.12 C371.26,57.45 371.26,70.45 362.12,74.78" fill="none" stroke="#ff8000" stroke-width="1.85" stroke-linecap="round"/><path d="M442.18,52.82 C433.44,57.05 433.44,69.75 442.18,73.98" fill="none" stroke="#0000a8" stroke-width="1.85" stroke-linecap="round"/><path d="M455.03,52.82 C463.22,57.05 463.22,69.75 455.03,73.98" fill="none" stroke="#0000a8" stroke-width="1.85" stroke-linecap="round"/><path d="M538.25,39.95 C527.58,49.27 527.58,77.23 538.25,86.55" fill="none" stroke="#0000a8" stroke-width="1.90" stroke-linecap="round"/><path d="M590.95,39.95 C601.62,49.27 601.62,77.23 590.95,86.55" fill="none" stroke="#0000a8" stroke-width="1.90" stroke-linecap="round"/><path d="M541.8,63H556.4M562.5,63.1H588.8" stroke="#0000a8" stroke-width="1.8"/><path d="M262.85,64.25 C264.83,60.22 267.21,61.15 269.45,62.70 S274.07,65.18 276.05,61.15" stroke="#ff8000" stroke-width="1.70" fill="none" stroke-linecap="round"/><path d="M470.05,64.55 C472.01,61.43 474.37,62.15 476.60,63.35 S481.19,65.27 483.15,62.15" stroke="#0000a8" stroke-width="1.70" fill="none" stroke-linecap="round"/><g clip-path="url(#cb)"><path d="M122.00,765.20 L122.50,765.17 L123.00,765.14 L123.50,765.11 L124.00,765.08 L124.50,765.05 L125.00,765.02 L125.50,764.99 L126.00,764.95 L126.50,764.92 L127.00,764.89 L127.50,764.86 L128.00,764.83 L128.50,764.80 L129.00,764.76 L129.50,764.73 L130.00,764.70 L130.50,764.67 L131.00,764.63 L131.50,764.60 L132.00,764.57 L132.50,764.54 L133.00,764.50 L133.50,764.47 L134.00,764.44 L134.50,764.40 L135.00,764.37 L135.50,764.34 L136.00,764.30 L136.50,764.27 L137.00,764.23 L137.50,764.20 L138.00,764.17 L138.50,764.13 L139.00,764.10 L139.50,764.06 L140.00,764.03 L140.50,763.99 L141.00,763.96 L141.50,763.92 L142.00,763.89 L142.50,763.85 L143.00,763.82 L143.50,763.78 L144.00,763.75 L144.50,763.71 L145.00,763.68 L145.50,763.64 L146.00,763.61 L146.50,763.57 L147.00,763.53 L147.50,763.50 L148.00,763.46 L148.50,763.42 L149.00,763.39 L149.50,763.35 L150.00,763.31 L150.50,763.28 L151.00,763.24 L151.50,763.20 L152.00,763.17 L152.50,763.13 L153.00,763.09 L153.50,763.05 L154.00,763.01 L154.50,762.98 L155.00,762.94 L155.50,762.90 L156.00,762.86 L156.50,762.82 L157.00,762.78 L157.50,762.74 L158.00,762.71 L158.50,762.67 L159.00,762.63 L159.50,762.59 L160.00,762.55 L160.50,762.51 L161.00,762.47 L161.50,762.43 L162.00,762.39 L162.50,762.35 L163.00,762.31 L163.50,762.27 L164.00,762.23 L164.50,762.18 L165.00,762.14 L165.50,762.10 L166.00,762.06 L166.50,762.02 L167.00,761.98 L167.50,761.94 L168.00,761.89 L168.50,761.85 L169.00,761.81 L169.50,761.77 L170.00,761.72 L170.50,761.68 L171.00,761.64 L171.50,761.59 L172.00,761.55 L172.50,761.51 L173.00,761.46 L173.50,761.42 L174.00,761.38 L174.50,761.33 L175.00,761.29 L175.50,761.24 L176.00,761.20 L176.50,761.15 L177.00,761.11 L177.50,761.06 L178.00,761.02 L178.50,760.97 L179.00,760.93 L179.50,760.88 L180.00,760.83 L180.50,760.79 L181.00,760.74 L181.50,760.69 L182.00,760.65 L182.50,760.60 L183.00,760.55 L183.50,760.50 L184.00,760.46 L184.50,760.41 L185.00,760.36 L185.50,760.31 L186.00,760.26 L186.50,760.22 L187.00,760.17 L187.50,760.12 L188.00,760.07 L188.50,760.02 L189.00,759.97 L189.50,759.92 L190.00,759.87 L190.50,759.82 L191.00,759.77 L191.50,759.72 L192.00,759.67 L192.50,759.61 L193.00,759.56 L193.50,759.51 L194.00,759.46 L194.50,759.41 L195.00,759.36 L195.50,759.30 L196.00,759.25 L196.50,759.20 L197.00,759.14 L197.50,759.09 L198.00,759.04 L198.50,758.98 L199.00,758.93 L199.50,758.87 L200.00,758.82 L200.50,758.76 L201.00,758.71 L201.50,758.65 L202.00,758.60 L202.50,758.54 L203.00,758.49 L203.50,758.43 L204.00,758.37 L204.50,758.32 L205.00,758.26 L205.50,758.20 L206.00,758.14 L206.50,758.09 L207.00,758.03 L207.50,757.97 L208.00,757.91 L208.50,757.85 L209.00,757.79 L209.50,757.73 L210.00,757.67 L210.50,757.61 L211.00,757.55 L211.50,757.49 L212.00,757.43 L212.50,757.37 L213.00,757.31 L213.50,757.25 L214.00,757.18 L214.50,757.12 L215.00,757.06 L215.50,757.00 L216.00,756.93 L216.50,756.87 L217.00,756.80 L217.50,756.74 L218.00,756.68 L218.50,756.61 L219.00,756.55 L219.50,756.48 L220.00,756.41 L220.50,756.35 L221.00,756.28 L221.50,756.21 L222.00,756.15 L222.50,756.08 L223.00,756.01 L223.50,755.94 L224.00,755.88 L224.50,755.81 L225.00,755.74 L225.50,755.67 L226.00,755.60 L226.50,755.53 L227.00,755.46 L227.50,755.39 L228.00,755.32 L228.50,755.24 L229.00,755.17 L229.50,755.10 L230.00,755.03 L230.50,754.95 L231.00,754.88 L231.50,754.81 L232.00,754.73 L232.50,754.66 L233.00,754.58 L233.50,754.51 L234.00,754.43 L234.50,754.35 L235.00,754.28 L235.50,754.20 L236.00,754.12 L236.50,754.05 L237.00,753.97 L237.50,753.89 L238.00,753.81 L238.50,753.73 L239.00,753.65 L239.50,753.57 L240.00,753.49 L240.50,753.41 L241.00,753.33 L241.50,753.24 L242.00,753.16 L242.50,753.08 L243.00,752.99 L243.50,752.91 L244.00,752.83 L244.50,752.74 L245.00,752.66 L245.50,752.57 L246.00,752.48 L246.50,752.40 L247.00,752.31 L247.50,752.22 L248.00,752.13 L248.50,752.04 L249.00,751.96 L249.50,751.87 L250.00,751.78 L250.50,751.68 L251.00,751.59 L251.50,751.50 L252.00,751.41 L252.50,751.32 L253.00,751.22 L253.50,751.13 L254.00,751.03 L254.50,750.94 L255.00,750.84 L255.50,750.75 L256.00,750.65 L256.50,750.55 L257.00,750.45 L257.50,750.36 L258.00,750.26 L258.50,750.16 L259.00,750.06 L259.50,749.96 L260.00,749.85 L260.50,749.75 L261.00,749.65 L261.50,749.55 L262.00,749.44 L262.50,749.34 L263.00,749.23 L263.50,749.13 L264.00,749.02 L264.50,748.91 L265.00,748.80 L265.50,748.70 L266.00,748.59 L266.50,748.48 L267.00,748.37 L267.50,748.26 L268.00,748.14 L268.50,748.03 L269.00,747.92 L269.50,747.80 L270.00,747.69 L270.50,747.57 L271.00,747.46 L271.50,747.34 L272.00,747.22 L272.50,747.10 L273.00,746.98 L273.50,746.86 L274.00,746.74 L274.50,746.62 L275.00,746.50 L275.50,746.38 L276.00,746.25 L276.50,746.13 L277.00,746.00 L277.50,745.87 L278.00,745.75 L278.50,745.62 L279.00,745.49 L279.50,745.36 L280.00,745.23 L280.50,745.10 L281.00,744.96 L281.50,744.83 L282.00,744.70 L282.50,744.56 L283.00,744.42 L283.50,744.29 L284.00,744.15 L284.50,744.01 L285.00,743.87 L285.50,743.73 L286.00,743.59 L286.50,743.44 L287.00,743.30 L287.50,743.16 L288.00,743.01 L288.50,742.86 L289.00,742.71 L289.50,742.57 L290.00,742.42 L290.50,742.26 L291.00,742.11 L291.50,741.96 L292.00,741.80 L292.50,741.65 L293.00,741.49 L293.50,741.33 L294.00,741.17 L294.50,741.01 L295.00,740.85 L295.50,740.69 L296.00,740.53 L296.50,740.36 L297.00,740.20 L297.50,740.03 L298.00,739.86 L298.50,739.69 L299.00,739.52 L299.50,739.35 L300.00,739.17 L300.50,739.00 L301.00,738.82 L301.50,738.64 L302.00,738.46 L302.50,738.28 L303.00,738.10 L303.50,737.92 L304.00,737.73 L304.50,737.55 L305.00,737.36 L305.50,737.17 L306.00,736.98 L306.50,736.79 L307.00,736.60 L307.50,736.40 L308.00,736.20 L308.50,736.01 L309.00,735.81 L309.50,735.61 L310.00,735.40 L310.50,735.20 L311.00,734.99 L311.50,734.79 L312.00,734.58 L312.50,734.37 L313.00,734.15 L313.50,733.94 L314.00,733.72 L314.50,733.50 L315.00,733.28 L315.50,733.06 L316.00,732.84 L316.50,732.61 L317.00,732.39 L317.50,732.16 L318.00,731.93 L318.50,731.69 L319.00,731.46 L319.50,731.22 L320.00,730.98 L320.50,730.74 L321.00,730.50 L321.50,730.26 L322.00,730.01 L322.50,729.76 L323.00,729.51 L323.50,729.26 L324.00,729.00 L324.50,728.74 L325.00,728.48 L325.50,728.22 L326.00,727.96 L326.50,727.69 L327.00,727.42 L327.50,727.15 L328.00,726.88 L328.50,726.60 L329.00,726.32 L329.50,726.04 L330.00,725.76 L330.50,725.47 L331.00,725.18 L331.50,724.89 L332.00,724.60 L332.50,724.30 L333.00,724.00 L333.50,723.70 L334.00,723.39 L334.50,723.09 L335.00,722.78 L335.50,722.47 L336.00,722.15 L336.50,721.83 L337.00,721.51 L337.50,721.19 L338.00,720.86 L338.50,720.53 L339.00,720.20 L339.50,719.86 L340.00,719.52 L340.50,719.18 L341.00,718.83 L341.50,718.48 L342.00,718.13 L342.50,717.78 L343.00,717.42 L343.50,717.05 L344.00,716.69 L344.50,716.32 L345.00,715.95 L345.50,715.57 L346.00,715.19 L346.50,714.81 L347.00,714.43 L347.50,714.04 L348.00,713.64 L348.50,713.25 L349.00,712.84 L349.50,712.44 L350.00,712.03 L350.50,711.62 L351.00,711.20 L351.50,710.78 L352.00,710.36 L352.50,709.93 L353.00,709.50 L353.50,709.06 L354.00,708.63 L354.50,708.18 L355.00,707.73 L355.50,707.28 L356.00,706.82 L356.50,706.36 L357.00,705.90 L357.50,705.43 L358.00,704.96 L358.50,704.48 L359.00,704.00 L359.50,703.51 L360.00,703.02 L360.50,702.53 L361.00,702.03 L361.50,701.52 L362.00,701.01 L362.50,700.50 L363.00,699.98 L363.50,699.46 L364.00,698.93 L364.50,698.40 L365.00,697.87 L365.50,697.33 L366.00,696.78 L366.50,696.23 L367.00,695.68 L367.50,695.12 L368.00,694.56 L368.50,693.99 L369.00,693.42 L369.50,692.84 L370.00,692.26 L370.50,691.67 L371.00,691.08 L371.50,690.49 L372.00,689.89 L372.50,689.29 L373.00,688.68 L373.50,688.07 L374.00,687.45 L374.50,686.83 L375.00,686.21 L375.50,685.58 L376.00,684.95 L376.50,684.31 L377.00,683.67 L377.50,683.03 L378.00,682.38 L378.50,681.73 L379.00,681.08 L379.50,680.42 L380.00,679.76 L380.50,679.10 L381.00,678.43 L381.50,677.77 L382.00,677.10 L382.50,676.42 L383.00,675.75 L383.50,675.07 L384.00,674.40 L384.50,673.72 L385.00,673.04 L385.50,672.36 L386.00,671.67 L386.50,670.99 L387.00,670.31 L387.50,669.63 L388.00,668.95 L388.50,668.27 L389.00,667.59 L389.50,666.91 L390.00,666.23 L390.50,665.56 L391.00,664.89 L391.50,664.22 L392.00,663.56 L392.50,662.90 L393.00,662.24 L393.50,661.59 L394.00,660.94 L394.50,660.30 L395.00,659.67 L395.50,659.04 L396.00,658.42 L396.50,657.81 L397.00,657.20 L397.50,656.61 L398.00,656.02 L398.50,655.44 L399.00,654.88 L399.50,654.32 L400.00,653.77 L400.50,653.24 L401.00,652.72 L401.50,652.21 L402.00,651.72 L402.50,651.24 L403.00,650.77 L403.50,650.32 L404.00,649.89 L404.50,649.47 L405.00,649.07 L405.50,648.68 L406.00,648.31 L406.50,647.96 L407.00,647.63 L407.50,647.32 L408.00,647.03 L408.50,646.75 L409.00,646.50 L409.50,646.27 L410.00,646.06 L410.50,645.87 L411.00,645.70 L411.50,645.55 L412.00,645.42 L412.50,645.32 L413.00,645.24 L413.50,645.18 L414.00,645.14 L414.50,645.13 L415.00,645.13 L415.50,645.17 L416.00,645.23 L416.50,645.31 L417.00,645.43 L417.50,645.56 L418.00,645.73 L418.50,645.92 L419.00,646.13 L419.50,646.37 L420.00,646.63 L420.50,646.91 L421.00,647.22 L421.50,647.56 L422.00,647.91 L422.50,648.29 L423.00,648.68 L423.50,649.10 L424.00,649.54 L424.50,650.00 L425.00,650.48 L425.50,650.97 L426.00,651.49 L426.50,652.02 L427.00,652.56 L427.50,653.12 L428.00,653.70 L428.50,654.29 L429.00,654.90 L429.50,655.52 L430.00,656.15 L430.50,656.79 L431.00,657.44 L431.50,658.10 L432.00,658.77 L432.50,659.46 L433.00,660.15 L433.50,660.84 L434.00,661.55 L434.50,662.26 L435.00,662.97 L435.50,663.70 L436.00,664.42 L436.50,665.15 L437.00,665.89 L437.50,666.63 L438.00,667.37 L438.50,668.11 L439.00,668.85 L439.50,669.60 L440.00,670.35 L440.50,671.10 L441.00,671.84 L441.50,672.59 L442.00,673.34 L442.50,674.08 L443.00,674.83 L443.50,675.57 L444.00,676.32 L444.50,677.06 L445.00,677.79 L445.50,678.53 L446.00,679.26 L446.50,679.99 L447.00,680.72 L447.50,681.44 L448.00,682.16 L448.50,682.87 L449.00,683.58 L449.50,684.29 L450.00,684.99 L450.50,685.69 L451.00,686.39 L451.50,687.08 L452.00,687.76 L452.50,688.44 L453.00,689.12 L453.50,689.79 L454.00,690.46 L454.50,691.12 L455.00,691.77 L455.50,692.42 L456.00,693.07 L456.50,693.71 L457.00,694.34 L457.50,694.97 L458.00,695.60 L458.50,696.22 L459.00,696.83 L459.50,697.44 L460.00,698.04 L460.50,698.64 L461.00,699.23 L461.50,699.82 L462.00,700.40 L462.50,700.98 L463.00,701.55 L463.50,702.12 L464.00,702.68 L464.50,703.23 L465.00,703.78 L465.50,704.33 L466.00,704.87 L466.50,705.40 L467.00,705.93 L467.50,706.46 L468.00,706.98 L468.50,707.49 L469.00,708.00 L469.50,708.51 L470.00,709.01 L470.50,709.50 L471.00,709.99 L471.50,710.48 L472.00,710.96 L472.50,711.44 L473.00,711.91 L473.50,712.37 L474.00,712.84 L474.50,713.30 L475.00,713.75 L475.50,714.20 L476.00,714.64 L476.50,715.08 L477.00,715.52 L477.50,715.95 L478.00,716.38 L478.50,716.80 L479.00,717.22 L479.50,717.64 L480.00,718.05 L480.50,718.46 L481.00,718.86 L481.50,719.26 L482.00,719.66 L482.50,720.05 L483.00,720.44 L483.50,720.82 L484.00,721.20 L484.50,721.58 L485.00,721.95 L485.50,722.32 L486.00,722.69 L486.50,723.05 L487.00,723.41 L487.50,723.77 L488.00,724.12 L488.50,724.47 L489.00,724.82 L489.50,725.16 L490.00,725.50 L490.50,725.84 L491.00,726.17 L491.50,726.50 L492.00,726.83 L492.50,727.15 L493.00,727.47 L493.50,727.79 L494.00,728.11 L494.50,728.42 L495.00,728.73 L495.50,729.04 L496.00,729.34 L496.50,729.64 L497.00,729.94 L497.50,730.24 L498.00,730.53 L498.50,730.82 L499.00,731.11 L499.50,731.40 L500.00,731.68 L500.50,731.96 L501.00,732.24 L501.50,732.52 L502.00,732.79 L502.50,733.06 L503.00,733.33 L503.50,733.60 L504.00,733.86 L504.50,734.12 L505.00,734.38 L505.50,734.64 L506.00,734.90 L506.50,735.15 L507.00,735.40 L507.50,735.65 L508.00,735.90 L508.50,736.14 L509.00,736.39 L509.50,736.63 L510.00,736.86 L510.50,737.10 L511.00,737.34 L511.50,737.57 L512.00,737.80 L512.50,738.03 L513.00,738.26 L513.50,738.48 L514.00,738.71 L514.50,738.93 L515.00,739.15 L515.50,739.37 L516.00,739.58 L516.50,739.80 L517.00,740.01 L517.50,740.22 L518.00,740.43 L518.50,740.64 L519.00,740.85 L519.50,741.05 L520.00,741.26 L520.50,741.46 L521.00,741.66 L521.50,741.86 L522.00,742.06 L522.50,742.25 L523.00,742.45 L523.50,742.64 L524.00,742.83 L524.50,743.02 L525.00,743.21 L525.50,743.40 L526.00,743.58 L526.50,743.77 L527.00,743.95 L527.50,744.13 L528.00,744.31 L528.50,744.49 L529.00,744.67 L529.50,744.85 L530.00,745.02 L530.50,745.20 L531.00,745.37 L531.50,745.54 L532.00,745.71 L532.50,745.88 L533.00,746.05 L533.50,746.21 L534.00,746.38 L534.50,746.55 L535.00,746.71 L535.50,746.87 L536.00,747.03 L536.50,747.19 L537.00,747.35 L537.50,747.51 L538.00,747.67 L538.50,747.82 L539.00,747.98 L539.50,748.13 L540.00,748.28 L540.50,748.43 L541.00,748.58 L541.50,748.73 L542.00,748.88 L542.50,749.03 L543.00,749.18 L543.50,749.32 L544.00,749.47 L544.50,749.61 L545.00,749.75 L545.50,749.90 L546.00,750.04 L546.50,750.18 L547.00,750.32 L547.50,750.46 L548.00,750.59 L548.50,750.73 L549.00,750.86 L549.50,751.00 L550.00,751.13 L550.50,751.27 L551.00,751.40 L551.50,751.53 L552.00,751.66 L552.50,751.79 L553.00,751.92 L553.50,752.05 L554.00,752.18 L554.50,752.30 L555.00,752.43 L555.50,752.56 L556.00,752.68 L556.50,752.80 L557.00,752.93 L557.50,753.05 L558.00,753.17 L558.50,753.29 L559.00,753.41 L559.50,753.53 L560.00,753.65 L560.50,753.77 L561.00,753.89 L561.50,754.00 L562.00,754.12 L562.50,754.24 L563.00,754.35 L563.50,754.46 L564.00,754.58 L564.50,754.69 L565.00,754.80 L565.50,754.91 L566.00,755.03 L566.50,755.14 L567.00,755.25 L567.50,755.35 L568.00,755.46 L568.50,755.57 L569.00,755.68 L569.50,755.79 L570.00,755.89 L570.50,756.00 L571.00,756.10 L571.50,756.21 L572.00,756.31 L572.50,756.41 L573.00,756.52 L573.50,756.62 L574.00,756.72 L574.50,756.82 L575.00,756.92 L575.50,757.02 L576.00,757.12 L576.50,757.22 L577.00,757.32 L577.50,757.42 L578.00,757.52 L578.50,757.61 L579.00,757.71 L579.50,757.81 L580.00,757.90 L580.50,758.00 L581.00,758.09 L581.50,758.19 L582.00,758.28 L582.50,758.37 L583.00,758.47 L583.50,758.56 L584.00,758.65 L584.50,758.74 L585.00,758.83 L585.50,758.92 L586.00,759.01 L586.50,759.10 L587.00,759.19 L587.50,759.28 L588.00,759.37 L588.50,759.46 L589.00,759.54 L589.50,759.63 L590.00,759.72 L590.50,759.80 L591.00,759.89 L591.50,759.98 L592.00,760.06 L592.50,760.15 L593.00,760.23 L593.50,760.31 L594.00,760.40 L594.50,760.48 L595.00,760.56 L595.50,760.64 L596.00,760.73 L596.50,760.81 L597.00,760.89 L597.50,760.97 L598.00,761.05 L598.50,761.13 L599.00,761.21 L599.50,761.29 L600.00,761.37 L600.50,761.45 L601.00,761.53 L601.50,761.60 L602.00,761.68 L602.50,761.76 L603.00,761.84 L603.50,761.91 L604.00,761.99 L604.50,762.07 L605.00,762.14 L605.50,762.22 L606.00,762.29 L606.50,762.37 L607.00,762.44 L607.50,762.52 L608.00,762.59 L608.50,762.66 L609.00,762.74 L609.50,762.81 L610.00,762.88 L610.50,762.95 L611.00,763.03 L611.50,763.10 L612.00,763.17 L612.50,763.24 L613.00,763.31 L613.50,763.38 L614.00,763.45 L614.50,763.52 L615.00,763.59 L615.50,763.66 L616.00,763.73 L616.50,763.80 L617.00,763.87 L617.50,763.94 L618.00,764.00 L618.50,764.07 L619.00,764.14 L619.50,764.21 L620.00,764.27 L620.50,764.34 L621.00,764.41 L621.50,764.47 L622.00,764.54 L622.50,764.60 L623.00,764.67 L623.50,764.73 L624.00,764.80 L624.50,764.86 L625.00,764.93 L625.50,764.99 L626.00,765.06 L626.50,765.12 L627.00,765.18 L627.50,765.25 L628.00,765.31 L628.50,765.37 L629.00,765.44 L629.50,765.50 L630.00,765.56 L630.50,765.62 L631.00,765.68 L631.50,765.75 L632.00,765.81 L632.50,765.87 L633.00,765.93 L633.50,765.99 L634.00,766.05 L634.50,766.11 L635.00,766.17 L635.50,766.23 L636.00,766.29 L636.50,766.35 L637.00,766.41 L637.50,766.47 L638.00,766.53 L638.50,766.58 L639.00,766.64 L639.50,766.70 L640.00,766.76 L640.50,766.82 L641.00,766.87 L641.50,766.93 L642.00,766.99 L642.50,767.05 L643.00,767.10 L643.50,767.16 L644.00,767.21 L644.50,767.27 L645.00,767.33 L645.50,767.38 L646.00,767.44 L646.50,767.49 L647.00,767.55 L647.50,767.60 L648.00,767.66 L648.50,767.71 L649.00,767.77 L649.50,767.82 L650.00,767.88 L650.50,767.93 L651.00,767.99 L651.50,768.04 L652.00,768.09 L652.50,768.15 L653.00,768.20 L653.50,768.25 L654.00,768.31 L654.50,768.36 L655.00,768.41 L655.50,768.46 L656.00,768.52 L656.50,768.57 L657.00,768.62 L657.50,768.67 L658.00,768.72 L658.50,768.77 L659.00,768.83 L659.50,768.88 L660.00,768.93 L660.50,768.98 L661.00,769.03 L661.50,769.08 L662.00,769.13 L662.50,769.18 L663.00,769.23 L663.50,769.28 L664.00,769.33 L664.50,769.38 L665.00,769.43 L665.50,769.48 L666.00,769.53 L666.50,769.58 L667.00,769.63 L667.50,769.68 L668.00,769.72 L668.50,769.77 L669.00,769.82 L669.50,769.87 L670.00,769.92 L670.50,769.97 L671.00,770.01 L671.50,770.06 L672.00,770.11 L672.50,770.16" stroke="#0000ff" stroke-width="3" fill="none"/><path d="M122.00,769.45 L122.50,769.45 L123.00,769.45 L123.50,769.45 L124.00,769.45 L124.50,769.45 L125.00,769.45 L125.50,769.45 L126.00,769.45 L126.50,769.45 L127.00,769.45 L127.50,769.45 L128.00,769.45 L128.50,769.45 L129.00,769.45 L129.50,769.44 L130.00,769.44 L130.50,769.44 L131.00,769.44 L131.50,769.43 L132.00,769.43 L132.50,769.43 L133.00,769.42 L133.50,769.42 L134.00,769.41 L134.50,769.41 L135.00,769.40 L135.50,769.40 L136.00,769.39 L136.50,769.38 L137.00,769.38 L137.50,769.37 L138.00,769.36 L138.50,769.36 L139.00,769.35 L139.50,769.34 L140.00,769.33 L140.50,769.33 L141.00,769.32 L141.50,769.31 L142.00,769.30 L142.50,769.29 L143.00,769.28 L143.50,769.27 L144.00,769.26 L144.50,769.25 L145.00,769.24 L145.50,769.23 L146.00,769.22 L146.50,769.20 L147.00,769.19 L147.50,769.18 L148.00,769.17 L148.50,769.15 L149.00,769.14 L149.50,769.13 L150.00,769.11 L150.50,769.10 L151.00,769.09 L151.50,769.07 L152.00,769.06 L152.50,769.04 L153.00,769.03 L153.50,769.01 L154.00,768.99 L154.50,768.98 L155.00,768.96 L155.50,768.94 L156.00,768.93 L156.50,768.91 L157.00,768.89 L157.50,768.87 L158.00,768.86 L158.50,768.84 L159.00,768.82 L159.50,768.80 L160.00,768.78 L160.50,768.76 L161.00,768.74 L161.50,768.72 L162.00,768.70 L162.50,768.68 L163.00,768.66 L163.50,768.64 L164.00,768.61 L164.50,768.59 L165.00,768.57 L165.50,768.55 L166.00,768.52 L166.50,768.50 L167.00,768.48 L167.50,768.45 L168.00,768.43 L168.50,768.41 L169.00,768.38 L169.50,768.36 L170.00,768.33 L170.50,768.31 L171.00,768.28 L171.50,768.25 L172.00,768.23 L172.50,768.20 L173.00,768.17 L173.50,768.15 L174.00,768.12 L174.50,768.09 L175.00,768.06 L175.50,768.03 L176.00,768.01 L176.50,767.98 L177.00,767.95 L177.50,767.92 L178.00,767.89 L178.50,767.86 L179.00,767.83 L179.50,767.80 L180.00,767.77 L180.50,767.73 L181.00,767.70 L181.50,767.67 L182.00,767.64 L182.50,767.61 L183.00,767.57 L183.50,767.54 L184.00,767.51 L184.50,767.47 L185.00,767.44 L185.50,767.40 L186.00,767.37 L186.50,767.34 L187.00,767.30 L187.50,767.26 L188.00,767.23 L188.50,767.19 L189.00,767.16 L189.50,767.12 L190.00,767.08 L190.50,767.05 L191.00,767.01 L191.50,766.97 L192.00,766.93 L192.50,766.89 L193.00,766.85 L193.50,766.81 L194.00,766.78 L194.50,766.74 L195.00,766.70 L195.50,766.66 L196.00,766.61 L196.50,766.57 L197.00,766.53 L197.50,766.49 L198.00,766.45 L198.50,766.41 L199.00,766.36 L199.50,766.32 L200.00,766.28 L200.50,766.23 L201.00,766.19 L201.50,766.15 L202.00,766.10 L202.50,766.06 L203.00,766.01 L203.50,765.97 L204.00,765.92 L204.50,765.88 L205.00,765.83 L205.50,765.78 L206.00,765.74 L206.50,765.69 L207.00,765.64 L207.50,765.59 L208.00,765.55 L208.50,765.50 L209.00,765.45 L209.50,765.40 L210.00,765.35 L210.50,765.30 L211.00,765.25 L211.50,765.20 L212.00,765.15 L212.50,765.10 L213.00,765.05 L213.50,765.00 L214.00,764.94 L214.50,764.89 L215.00,764.84 L215.50,764.79 L216.00,764.73 L216.50,764.68 L217.00,764.63 L217.50,764.57 L218.00,764.52 L218.50,764.46 L219.00,764.41 L219.50,764.35 L220.00,764.30 L220.50,764.24 L221.00,764.18 L221.50,764.13 L222.00,764.07 L222.50,764.01 L223.00,763.95 L223.50,763.90 L224.00,763.84 L224.50,763.78 L225.00,763.72 L225.50,763.66 L226.00,763.60 L226.50,763.54 L227.00,763.48 L227.50,763.42 L228.00,763.36 L228.50,763.30 L229.00,763.24 L229.50,763.17 L230.00,763.11 L230.50,763.05 L231.00,762.98 L231.50,762.92 L232.00,762.86 L232.50,762.79 L233.00,762.73 L233.50,762.66 L234.00,762.60 L234.50,762.53 L235.00,762.47 L235.50,762.40 L236.00,762.33 L236.50,762.27 L237.00,762.20 L237.50,762.13 L238.00,762.06 L238.50,762.00 L239.00,761.93 L239.50,761.86 L240.00,761.79 L240.50,761.72 L241.00,761.65 L241.50,761.58 L242.00,761.51 L242.50,761.44 L243.00,761.36 L243.50,761.29 L244.00,761.22 L244.50,761.15 L245.00,761.07 L245.50,761.00 L246.00,760.93 L246.50,760.85 L247.00,760.78 L247.50,760.70 L248.00,760.63 L248.50,760.55 L249.00,760.48 L249.50,760.40 L250.00,760.32 L250.50,760.25 L251.00,760.17 L251.50,760.09 L252.00,760.01 L252.50,759.93 L253.00,759.85 L253.50,759.77 L254.00,759.69 L254.50,759.61 L255.00,759.53 L255.50,759.45 L256.00,759.37 L256.50,759.29 L257.00,759.21 L257.50,759.12 L258.00,759.04 L258.50,758.96 L259.00,758.87 L259.50,758.79 L260.00,758.70 L260.50,758.62 L261.00,758.53 L261.50,758.45 L262.00,758.36 L262.50,758.27 L263.00,758.19 L263.50,758.10 L264.00,758.01 L264.50,757.92 L265.00,757.83 L265.50,757.74 L266.00,757.65 L266.50,757.56 L267.00,757.47 L267.50,757.38 L268.00,757.29 L268.50,757.20 L269.00,757.11 L269.50,757.01 L270.00,756.92 L270.50,756.83 L271.00,756.73 L271.50,756.64 L272.00,756.54 L272.50,756.45 L273.00,756.35 L273.50,756.25 L274.00,756.16 L274.50,756.06 L275.00,755.96 L275.50,755.86 L276.00,755.76 L276.50,755.66 L277.00,755.56 L277.50,755.46 L278.00,755.36 L278.50,755.26 L279.00,755.16 L279.50,755.06 L280.00,754.96 L280.50,754.85 L281.00,754.75 L281.50,754.64 L282.00,754.54 L282.50,754.43 L283.00,754.33 L283.50,754.22 L284.00,754.11 L284.50,754.01 L285.00,753.90 L285.50,753.79 L286.00,753.68 L286.50,753.57 L287.00,753.46 L287.50,753.35 L288.00,753.24 L288.50,753.13 L289.00,753.01 L289.50,752.90 L290.00,752.79 L290.50,752.67 L291.00,752.56 L291.50,752.44 L292.00,752.33 L292.50,752.21 L293.00,752.09 L293.50,751.98 L294.00,751.86 L294.50,751.74 L295.00,751.62 L295.50,751.50 L296.00,751.38 L296.50,751.26 L297.00,751.13 L297.50,751.01 L298.00,750.89 L298.50,750.76 L299.00,750.64 L299.50,750.51 L300.00,750.39 L300.50,750.26 L301.00,750.13 L301.50,750.01 L302.00,749.88 L302.50,749.75 L303.00,749.62 L303.50,749.49 L304.00,749.35 L304.50,749.22 L305.00,749.09 L305.50,748.95 L306.00,748.82 L306.50,748.68 L307.00,748.55 L307.50,748.41 L308.00,748.27 L308.50,748.13 L309.00,747.99 L309.50,747.85 L310.00,747.71 L310.50,747.57 L311.00,747.43 L311.50,747.28 L312.00,747.14 L312.50,746.99 L313.00,746.85 L313.50,746.70 L314.00,746.55 L314.50,746.40 L315.00,746.25 L315.50,746.10 L316.00,745.95 L316.50,745.80 L317.00,745.64 L317.50,745.49 L318.00,745.33 L318.50,745.17 L319.00,745.02 L319.50,744.86 L320.00,744.70 L320.50,744.54 L321.00,744.37 L321.50,744.21 L322.00,744.05 L322.50,743.88 L323.00,743.71 L323.50,743.55 L324.00,743.38 L324.50,743.21 L325.00,743.04 L325.50,742.86 L326.00,742.69 L326.50,742.51 L327.00,742.34 L327.50,742.16 L328.00,741.98 L328.50,741.80 L329.00,741.62 L329.50,741.44 L330.00,741.25 L330.50,741.07 L331.00,740.88 L331.50,740.69 L332.00,740.50 L332.50,740.31 L333.00,740.11 L333.50,739.92 L334.00,739.72 L334.50,739.52 L335.00,739.32 L335.50,739.12 L336.00,738.92 L336.50,738.71 L337.00,738.51 L337.50,738.30 L338.00,738.09 L338.50,737.87 L339.00,737.66 L339.50,737.44 L340.00,737.23 L340.50,737.01 L341.00,736.78 L341.50,736.56 L342.00,736.33 L342.50,736.10 L343.00,735.87 L343.50,735.64 L344.00,735.40 L344.50,735.17 L345.00,734.93 L345.50,734.68 L346.00,734.44 L346.50,734.19 L347.00,733.94 L347.50,733.69 L348.00,733.43 L348.50,733.17 L349.00,732.91 L349.50,732.65 L350.00,732.38 L350.50,732.11 L351.00,731.84 L351.50,731.56 L352.00,731.28 L352.50,731.00 L353.00,730.71 L353.50,730.43 L354.00,730.13 L354.50,729.84 L355.00,729.53 L355.50,729.23 L356.00,728.92 L356.50,728.61 L357.00,728.29 L357.50,727.97 L358.00,727.65 L358.50,727.32 L359.00,726.99 L359.50,726.65 L360.00,726.31 L360.50,725.96 L361.00,725.61 L361.50,725.25 L362.00,724.88 L362.50,724.52 L363.00,724.14 L363.50,723.76 L364.00,723.38 L364.50,722.98 L365.00,722.59 L365.50,722.18 L366.00,721.77 L366.50,721.35 L367.00,720.93 L367.50,720.50 L368.00,720.06 L368.50,719.61 L369.00,719.16 L369.50,718.70 L370.00,718.22 L370.50,717.74 L371.00,717.26 L371.50,716.76 L372.00,716.25 L372.50,715.73 L373.00,715.21 L373.50,714.67 L374.00,714.12 L374.50,713.56 L375.00,712.99 L375.50,712.41 L376.00,711.81 L376.50,711.21 L377.00,710.58 L377.50,709.95 L378.00,709.30 L378.50,708.64 L379.00,707.96 L379.50,707.26 L380.00,706.55 L380.50,705.82 L381.00,705.07 L381.50,704.31 L382.00,703.52 L382.50,702.72 L383.00,701.89 L383.50,701.04 L384.00,700.17 L384.50,699.27 L385.00,698.35 L385.50,697.41 L386.00,696.43 L386.50,695.43 L387.00,694.40 L387.50,693.34 L388.00,692.24 L388.50,691.11 L389.00,689.94 L389.50,688.74 L390.00,687.49 L390.50,686.21 L391.00,684.88 L391.50,683.50 L392.00,682.07 L392.50,680.60 L393.00,679.06 L393.50,677.47 L394.00,675.82 L394.50,674.11 L395.00,672.32 L395.50,670.46 L396.00,668.52 L396.50,666.50 L397.00,664.39 L397.50,662.19 L398.00,659.88 L398.50,657.47 L399.00,654.93 L399.50,652.28 L400.00,649.48 L400.50,646.54 L401.00,643.44 L401.50,640.16 L402.00,636.70 L402.50,633.02 L403.00,629.13 L403.50,624.98 L404.00,620.55 L404.50,615.82 L405.00,610.75 L405.10,609.69 L405.15,609.15 L405.20,608.62 L405.25,608.07 L405.30,607.52 L405.35,606.97 L405.40,606.42 L405.45,605.86 L405.50,605.29 L405.55,604.72 L405.60,604.15 L405.65,603.57 L405.70,602.99 L405.75,602.40 L405.80,601.81 L405.85,601.21 L405.90,600.61 L405.95,600.01 L406.00,599.40 L406.05,598.78 L406.10,598.16 L406.15,597.53 L406.20,596.90 L406.25,596.27 L406.30,595.62 L406.35,594.98 L406.40,594.32 L406.45,593.67 L406.50,593.00 L406.55,592.33 L406.60,591.66 L406.65,590.98 L406.70,590.29 L406.75,589.60 L406.80,588.90 L406.85,588.19 L406.90,587.48 L406.95,586.76 L407.00,586.04 L407.05,585.30 L407.10,584.56 L407.15,583.82 L407.20,583.07 L407.25,582.31 L407.30,581.54 L407.35,580.77 L407.40,579.98 L407.45,579.20 L407.50,578.40 L407.55,577.59 L407.60,576.78 L407.65,575.96 L407.70,575.13 L407.75,574.29 L407.80,573.44 L407.85,572.59 L407.90,571.72 L407.95,570.85 L408.00,569.97 L408.05,569.07 L408.10,568.17 L408.15,567.26 L408.20,566.34 L408.25,565.40 L408.30,564.46 L408.35,563.51 L408.40,562.54 L408.45,561.56 L408.50,560.58 L408.55,559.58 L408.60,558.56 L408.65,557.54 L408.70,556.50 L408.75,555.45 L408.80,554.39 L408.85,553.31 L408.90,552.22 L408.95,551.11 L409.00,549.99 L409.05,548.86 L409.10,547.71 L409.15,546.54 L409.20,545.35 L409.25,544.15 L409.30,542.93 L409.35,541.70 L409.40,540.44 L409.45,539.16 L409.50,537.87 L409.55,536.55 L409.60,535.22 L409.65,533.86 L409.70,532.47 L409.75,531.06 L409.80,529.63 L409.85,528.17 L409.90,526.69 L409.95,525.17 L410.00,523.63 L410.05,522.05 L410.10,520.44 L410.15,518.80 L410.20,517.11 L410.25,515.39 L410.30,513.63 L410.35,511.82 L410.40,509.97 L410.45,508.06 L410.50,506.09 L410.55,504.07 L410.60,501.98 L410.65,499.81 L410.70,497.56 L410.75,495.21 L410.80,492.75 L410.85,490.16 L410.90,487.41 L410.95,484.44 L411.00,481.19 L411.05,477.44 L411.10,472.00 L411.15,479.70 L411.20,484.33 L411.25,488.20 L411.30,491.63 L411.35,494.76 L411.40,497.65 L411.45,500.36 L411.50,502.92 L411.55,505.35 L411.60,507.68 L411.65,509.90 L411.70,512.04 L411.75,514.11 L411.80,516.10 L411.85,518.03 L411.90,519.90 L411.95,521.72 L412.00,523.49 L412.05,525.21 L412.10,526.88 L412.15,528.52 L412.20,530.12 L412.25,531.68 L412.30,533.20 L412.35,534.70 L412.40,536.16 L412.45,537.59 L412.50,539.00 L412.55,540.37 L412.60,541.73 L412.65,543.05 L412.70,544.36 L412.75,545.64 L412.80,546.90 L412.85,548.14 L412.90,549.35 L412.95,550.55 L413.00,551.73 L413.05,552.89 L413.10,554.04 L413.15,555.16 L413.20,556.27 L413.25,557.37 L413.30,558.44 L413.35,559.51 L413.40,560.55 L413.45,561.59 L413.50,562.61 L413.55,563.62 L413.60,564.61 L413.65,565.59 L413.70,566.56 L413.75,567.52 L413.80,568.46 L413.85,569.39 L413.90,570.32 L413.95,571.23 L414.00,572.13 L414.05,573.02 L414.10,573.90 L414.15,574.76 L414.20,575.62 L414.25,576.47 L414.30,577.31 L414.35,578.15 L414.40,578.97 L414.45,579.78 L414.50,580.59 L414.55,581.38 L414.60,582.17 L414.65,582.95 L414.70,583.72 L414.75,584.49 L414.80,585.25 L414.85,585.99 L414.90,586.74 L414.95,587.47 L415.00,588.20 L415.05,588.92 L415.10,589.63 L415.15,590.34 L415.20,591.04 L415.25,591.73 L415.30,592.42 L415.35,593.10 L415.40,593.78 L415.45,594.45 L415.50,595.11 L415.55,595.77 L415.60,596.42 L415.65,597.06 L415.70,597.70 L415.75,598.34 L415.80,598.97 L415.85,599.59 L415.90,600.21 L415.95,600.82 L416.00,601.43 L416.05,602.03 L416.10,602.63 L416.15,603.22 L416.20,603.81 L416.25,604.39 L416.30,604.97 L416.35,605.55 L416.40,606.12 L416.45,606.68 L416.50,607.24 L416.55,607.80 L416.60,608.35 L416.65,608.90 L416.70,609.44 L416.75,609.98 L416.80,610.52 L416.85,611.05 L416.90,611.57 L416.95,612.10 L417.00,612.62 L417.05,613.13 L417.10,613.64 L417.60,618.57 L418.10,623.16 L418.60,627.45 L419.10,631.48 L419.60,635.28 L420.10,638.85 L420.60,642.24 L421.10,645.44 L421.60,648.48 L422.10,651.36 L422.60,654.11 L423.10,656.73 L423.60,659.23 L424.10,661.62 L424.60,663.91 L425.10,666.09 L425.60,668.19 L426.10,670.21 L426.60,672.14 L427.10,674.00 L427.60,675.80 L428.10,677.52 L428.60,679.18 L429.10,680.79 L429.60,682.34 L430.10,683.83 L430.60,685.28 L431.10,686.68 L431.60,688.03 L432.10,689.35 L432.60,690.62 L433.10,691.85 L433.60,693.05 L434.10,694.21 L434.60,695.34 L435.10,696.43 L435.60,697.50 L436.10,698.53 L436.60,699.54 L437.10,700.52 L437.60,701.48 L438.10,702.41 L438.60,703.32 L439.10,704.20 L439.60,705.06 L440.10,705.91 L440.60,706.73 L441.10,707.53 L441.60,708.32 L442.10,709.08 L442.60,709.83 L443.10,710.56 L443.60,711.28 L444.10,711.98 L444.60,712.67 L445.10,713.34 L445.60,714.00 L446.10,714.64 L446.60,715.27 L447.10,715.89 L447.60,716.50 L448.10,717.09 L448.60,717.67 L449.10,718.25 L449.60,718.81 L450.10,719.36 L450.60,719.90 L451.10,720.43 L451.60,720.95 L452.10,721.47 L452.60,721.97 L453.10,722.47 L453.60,722.95 L454.10,723.43 L454.60,723.90 L455.10,724.37 L455.60,724.82 L456.10,725.27 L456.60,725.71 L457.10,726.15 L457.60,726.58 L458.10,727.00 L458.60,727.41 L459.10,727.82 L459.60,728.23 L460.10,728.62 L460.60,729.02 L461.10,729.40 L461.60,729.78 L462.10,730.16 L462.60,730.53 L463.10,730.89 L463.60,731.25 L464.10,731.61 L464.60,731.96 L465.10,732.31 L465.60,732.65 L466.10,732.99 L466.60,733.32 L467.10,733.65 L467.60,733.97 L468.10,734.29 L468.60,734.61 L469.10,734.92 L469.60,735.23 L470.10,735.54 L470.60,735.84 L471.10,736.14 L471.60,736.44 L472.10,736.73 L472.60,737.02 L473.10,737.30 L473.60,737.59 L474.10,737.87 L474.60,738.14 L475.10,738.42 L475.60,738.69 L476.10,738.96 L476.60,739.22 L477.10,739.48 L477.60,739.74 L478.10,740.00 L478.60,740.25 L479.10,740.51 L479.60,740.76 L480.10,741.00 L480.60,741.25 L481.10,741.49 L481.60,741.73 L482.10,741.97 L482.60,742.20 L483.10,742.44 L483.60,742.67 L484.10,742.90 L484.60,743.13 L485.10,743.35 L485.60,743.57 L486.10,743.80 L486.60,744.02 L487.10,744.23 L487.60,744.45 L488.10,744.66 L488.60,744.87 L489.10,745.08 L489.60,745.29 L490.10,745.50 L490.60,745.70 L491.10,745.91 L491.60,746.11 L492.10,746.31 L492.60,746.51 L493.10,746.70 L493.60,746.90 L494.10,747.09 L494.60,747.29 L495.10,747.48 L495.60,747.67 L496.10,747.85 L496.60,748.04 L497.10,748.23 L497.60,748.41 L498.10,748.59 L498.60,748.77 L499.10,748.95 L499.60,749.13 L500.10,749.31 L500.60,749.48 L501.10,749.66 L501.60,749.83 L502.10,750.00 L502.60,750.18 L503.10,750.35 L503.60,750.51 L504.10,750.68 L504.60,750.85 L505.10,751.01 L505.60,751.18 L506.10,751.34 L506.60,751.50 L507.10,751.66 L507.60,751.82 L508.10,751.98 L508.60,752.14 L509.10,752.30 L509.60,752.45 L510.10,752.61 L510.60,752.76 L511.10,752.91 L511.60,753.06 L512.10,753.21 L512.60,753.36 L513.10,753.51 L513.60,753.66 L514.10,753.81 L514.60,753.95 L515.10,754.10 L515.60,754.24 L516.10,754.39 L516.60,754.53 L517.10,754.67 L517.60,754.81 L518.10,754.95 L518.60,755.09 L519.10,755.23 L519.60,755.37 L520.10,755.50 L520.60,755.64 L521.10,755.77 L521.60,755.91 L522.10,756.04 L522.60,756.17 L523.10,756.30 L523.60,756.44 L524.10,756.57 L524.60,756.70 L525.10,756.82 L525.60,756.95 L526.10,757.08 L526.60,757.21 L527.10,757.33 L527.60,757.46 L528.10,757.58 L528.60,757.70 L529.10,757.83 L529.60,757.95 L530.10,758.07 L530.60,758.19 L531.10,758.31 L531.60,758.43 L532.10,758.55 L532.60,758.67 L533.10,758.79 L533.60,758.90 L534.10,759.02 L534.60,759.14 L535.10,759.25 L535.60,759.37 L536.10,759.48 L536.60,759.59 L537.10,759.71 L537.60,759.82 L538.10,759.93 L538.60,760.04 L539.10,760.15 L539.60,760.26 L540.10,760.37 L540.60,760.48 L541.10,760.58 L541.60,760.69 L542.10,760.80 L542.60,760.90 L543.10,761.01 L543.60,761.11 L544.10,761.22 L544.60,761.32 L545.10,761.42 L545.60,761.53 L546.10,761.63 L546.60,761.73 L547.10,761.83 L547.60,761.93 L548.10,762.03 L548.60,762.13 L549.10,762.23 L549.60,762.33 L550.10,762.43 L550.60,762.52 L551.10,762.62 L551.60,762.72 L552.10,762.81 L552.60,762.91 L553.10,763.00 L553.60,763.10 L554.10,763.19 L554.60,763.28 L555.10,763.37 L555.60,763.47 L556.10,763.56 L556.60,763.65 L557.10,763.74 L557.60,763.83 L558.10,763.92 L558.60,764.01 L559.10,764.10 L559.60,764.19 L560.10,764.27 L560.60,764.36 L561.10,764.45 L561.60,764.53 L562.10,764.62 L562.60,764.70 L563.10,764.79 L563.60,764.87 L564.10,764.96 L564.60,765.04 L565.10,765.12 L565.60,765.21 L566.10,765.29 L566.60,765.37 L567.10,765.45 L567.60,765.53 L568.10,765.61 L568.60,765.69 L569.10,765.77 L569.60,765.85 L570.10,765.93 L570.60,766.01 L571.10,766.08 L571.60,766.16 L572.10,766.24 L572.60,766.31 L573.10,766.39 L573.60,766.46 L574.10,766.54 L574.60,766.61 L575.10,766.69 L575.60,766.76 L576.10,766.83 L576.60,766.91 L577.10,766.98 L577.60,767.05 L578.10,767.12 L578.60,767.19 L579.10,767.26 L579.60,767.34 L580.10,767.41 L580.60,767.47 L581.10,767.54 L581.60,767.61 L582.10,767.68 L582.60,767.75 L583.10,767.82 L583.60,767.88 L584.10,767.95 L584.60,768.02 L585.10,768.08 L585.60,768.15 L586.10,768.21 L586.60,768.28 L587.10,768.34 L587.60,768.40 L588.10,768.47 L588.60,768.53 L589.10,768.59 L589.60,768.65 L590.10,768.72 L590.60,768.78 L591.10,768.84 L591.60,768.90 L592.10,768.96 L592.60,769.02 L593.10,769.08 L593.60,769.14 L594.10,769.20 L594.60,769.25 L595.10,769.31 L595.60,769.37 L596.10,769.43 L596.60,769.48 L597.10,769.54 L597.60,769.60 L598.10,769.65 L598.60,769.71 L599.10,769.76 L599.60,769.82 L600.10,769.87 L600.60,769.92 L601.10,769.98 L601.60,770.03 L602.10,770.08 L602.60,770.13 L603.10,770.19 L603.60,770.24 L604.10,770.29 L604.60,770.34 L605.10,770.39 L605.60,770.44 L606.10,770.49 L606.60,770.54 L607.10,770.59 L607.60,770.64 L608.10,770.68 L608.60,770.73 L609.10,770.78 L609.60,770.83 L610.10,770.87 L610.60,770.92 L611.10,770.97 L611.60,771.01 L612.10,771.06 L612.60,771.10 L613.10,771.15 L613.60,771.19 L614.10,771.23 L614.60,771.28 L615.10,771.32 L615.60,771.36 L616.10,771.41 L616.60,771.45 L617.10,771.49 L617.60,771.53 L618.10,771.57 L618.60,771.61 L619.10,771.65 L619.60,771.69 L620.10,771.73 L620.60,771.77 L621.10,771.81 L621.60,771.85 L622.10,771.89 L622.60,771.92 L623.10,771.96 L623.60,772.00 L624.10,772.03 L624.60,772.07 L625.10,772.11 L625.60,772.14 L626.10,772.18 L626.60,772.21 L627.10,772.25 L627.60,772.28 L628.10,772.32 L628.60,772.35 L629.10,772.38 L629.60,772.41 L630.10,772.45 L630.60,772.48 L631.10,772.51 L631.60,772.54 L632.10,772.57 L632.60,772.60 L633.10,772.64 L633.60,772.67 L634.10,772.69 L634.60,772.72 L635.10,772.75 L635.60,772.78 L636.10,772.81 L636.60,772.84 L637.10,772.87 L637.60,772.89 L638.10,772.92 L638.60,772.95 L639.10,772.97 L639.60,773.00 L640.10,773.03 L640.60,773.05 L641.10,773.08 L641.60,773.10 L642.10,773.12 L642.60,773.15 L643.10,773.17 L643.60,773.20 L644.10,773.22 L644.60,773.24 L645.10,773.26 L645.60,773.29 L646.10,773.31 L646.60,773.33 L647.10,773.35 L647.60,773.37 L648.10,773.39 L648.60,773.41 L649.10,773.43 L649.60,773.45 L650.10,773.47 L650.60,773.49 L651.10,773.51 L651.60,773.52 L652.10,773.54 L652.60,773.56 L653.10,773.58 L653.60,773.59 L654.10,773.61 L654.60,773.63 L655.10,773.64 L655.60,773.66 L656.10,773.67 L656.60,773.69 L657.10,773.70 L657.60,773.71 L658.10,773.73 L658.60,773.74 L659.10,773.75 L659.60,773.77 L660.10,773.78 L660.60,773.79 L661.10,773.80 L661.60,773.81 L662.10,773.83 L662.60,773.84 L663.10,773.85 L663.60,773.86 L664.10,773.87 L664.60,773.88 L665.10,773.89 L665.60,773.89 L666.10,773.90 L666.60,773.91 L667.10,773.92 L667.60,773.93 L668.10,773.93 L668.60,773.94 L669.10,773.95 L669.60,773.95 L670.10,773.96 L670.60,773.96 L671.10,773.97 L671.60,773.98 L672.10,773.98 L672.60,773.98" stroke="#ff8000" stroke-width="3" fill="none" stroke-linejoin="miter" stroke-miterlimit="30"/><path d="M122.00,773.50 L123.50,774.80 L125.70,777.00 L129.60,778.70 L133.10,777.00 L137.50,772.10 L141.90,767.30 L146.30,762.50 L150.60,761.60 L153.70,762.50 L157.70,764.70 L161.20,767.80 L165.50,769.50 L170.80,769.50 L174.30,767.30 L176.90,763.80 L180.00,763.60 L182.80,761.70 L188.50,761.70 L190.40,763.90 L194.20,765.30 L198.00,767.20 L201.80,769.60 L219.80,769.60 L222.70,771.50 L225.50,773.30 L229.30,775.20 L235.00,775.20 L237.90,773.30 L241.70,770.00 L244.50,765.80 L247.00,763.00 L249.60,761.80 L255.80,761.80 L258.40,763.50 L262.00,766.50 L267.00,768.50 L270.50,767.00 L274.20,764.00 L279.40,759.60 L285.50,752.10 L291.70,750.40 L295.20,753.00 L300.00,759.20 L304.00,764.00 L308.10,767.70 L311.00,763.50 L314.30,758.50 L318.00,755.00 L322.40,751.40 L326.00,747.50 L330.00,744.40 L335.10,747.00 L341.20,744.40 L343.80,741.10 L346.40,736.70 L348.90,731.60 L351.50,727.50 L354.00,723.40 L355.50,718.60 L357.60,715.80 L360.70,712.50 L366.80,712.50 L370.90,716.30 L373.40,718.30 L376.50,718.30 L380.10,714.70 L382.10,710.70 L384.00,704.70 L384.40,698.90 L385.70,691.40 L387.70,682.30 L389.50,674.00 L391.30,665.00 L393.30,657.20 L395.20,649.70 L397.00,639.50 L397.50,634.30 L399.30,626.00 L401.50,620.80 L405.30,613.30 L407.20,609.50 L409.00,607.70 L410.40,607.70 L411.90,610.10 L413.50,612.50 L416.50,618.50 L418.30,623.00 L420.30,628.70 L421.80,635.80 L424.00,643.30 L425.80,659.00 L427.80,666.50 L429.60,674.00 L431.50,681.60 L433.80,689.80 L435.70,697.30 L437.30,702.60 L439.10,706.60 L439.60,710.50 L441.30,713.10 L444.80,716.20 L450.00,716.20 L453.50,714.00 L457.00,714.00 L459.60,715.80 L462.30,717.50 L464.90,720.10 L466.20,723.60 L468.40,727.60 L471.90,731.50 L474.50,734.60 L477.20,737.70 L479.80,740.30 L483.30,742.90 L494.00,742.60 L497.90,744.20 L502.70,746.60 L507.50,749.00 L511.30,750.40 L514.20,752.50 L525.80,752.50 L527.70,750.40 L534.50,750.20 L536.90,752.30 L542.20,752.30 L545.10,754.30 L548.90,756.00 L553.70,757.90 L560.00,757.90 L563.40,757.00 L569.50,755.80 L576.70,756.40 L580.00,757.90 L583.50,760.10 L589.60,764.00 L592.30,767.50 L596.60,769.70 L600.10,771.50 L606.30,773.60 L609.80,773.20 L614.20,771.50 L618.50,769.70 L621.20,765.80 L625.50,764.00 L629.00,759.60 L632.50,756.60 L636.90,753.50 L638.50,752.30 L646.20,752.30 L648.40,754.90 L651.30,758.10 L654.20,761.10 L657.10,764.00 L660.00,766.90 L661.10,770.20 L663.00,773.50 L664.80,775.30 L670.30,775.30 L671.70,773.10 L672.20,772.80" stroke="#000" stroke-width="2.0" fill="none" stroke-dasharray="0 2.5" stroke-linecap="round"/></g><path d="M122.00,787.50v-3.50M122.00,448.50v3.50M149.51,787.50v-3.50M149.51,448.50v3.50M177.02,787.50v-3.50M177.02,448.50v3.50M204.53,787.50v-3.50M204.53,448.50v3.50M232.04,787.50v-3.50M232.04,448.50v3.50M259.55,787.50v-3.50M259.55,448.50v3.50M287.06,787.50v-3.50M287.06,448.50v3.50M314.57,787.50v-3.50M314.57,448.50v3.50M342.08,787.50v-3.50M342.08,448.50v3.50M369.59,787.50v-3.50M369.59,448.50v3.50M397.10,787.50v-3.50M397.10,448.50v3.50M424.61,787.50v-3.50M424.61,448.50v3.50M452.12,787.50v-3.50M452.12,448.50v3.50M479.63,787.50v-3.50M479.63,448.50v3.50M507.14,787.50v-3.50M507.14,448.50v3.50M534.65,787.50v-3.50M534.65,448.50v3.50M562.16,787.50v-3.50M562.16,448.50v3.50M589.67,787.50v-3.50M589.67,448.50v3.50M617.18,787.50v-3.50M617.18,448.50v3.50M644.69,787.50v-3.50M644.69,448.50v3.50M672.20,787.50v-3.50M672.20,448.50v3.50M122.00,787.50v-6.20M122.00,448.50v6.20M259.55,787.50v-6.20M259.55,448.50v6.20M397.10,787.50v-6.20M397.10,448.50v6.20M534.65,787.50v-6.20M534.65,448.50v6.20M672.20,787.50v-6.20M672.20,448.50v6.20M122.00,772.70h3.50M672.20,772.70h-3.50M122.00,758.00h3.50M672.20,758.00h-3.50M122.00,743.30h3.50M672.20,743.30h-3.50M122.00,728.60h3.50M672.20,728.60h-3.50M122.00,713.90h3.50M672.20,713.90h-3.50M122.00,699.20h3.50M672.20,699.20h-3.50M122.00,684.50h3.50M672.20,684.50h-3.50M122.00,669.80h3.50M672.20,669.80h-3.50M122.00,655.10h3.50M672.20,655.10h-3.50M122.00,640.40h3.50M672.20,640.40h-3.50M122.00,625.70h3.50M672.20,625.70h-3.50M122.00,611.00h3.50M672.20,611.00h-3.50M122.00,596.30h3.50M672.20,596.30h-3.50M122.00,581.60h3.50M672.20,581.60h-3.50M122.00,566.90h3.50M672.20,566.90h-3.50M122.00,552.20h3.50M672.20,552.20h-3.50M122.00,537.50h3.50M672.20,537.50h-3.50M122.00,522.80h3.50M672.20,522.80h-3.50M122.00,508.10h3.50M672.20,508.10h-3.50M122.00,493.40h3.50M672.20,493.40h-3.50M122.00,478.70h3.50M672.20,478.70h-3.50M122.00,464.00h3.50M672.20,464.00h-3.50M122.00,787.40h6.20M672.20,787.40h-6.20M122.00,713.90h6.20M672.20,713.90h-6.20M122.00,640.40h6.20M672.20,640.40h-6.20M122.00,566.90h6.20M672.20,566.90h-6.20M122.00,493.40h6.20M672.20,493.40h-6.20" stroke="#000" stroke-width="1.6" stroke-linecap="round" fill="none"/><rect x="122.00" y="448.50" width="550.20" height="339.00" fill="none" stroke="#000" stroke-width="2.1"/><text transform="translate(116.00,797.00) scale(1,1.060)" font-size="26.60" text-anchor="end">0.0000</text><text transform="translate(116.00,723.50) scale(1,1.060)" font-size="26.60" text-anchor="end">0.0005</text><text transform="translate(116.00,650.00) scale(1,1.060)" font-size="26.60" text-anchor="end">0.0010</text><text transform="translate(116.00,576.50) scale(1,1.060)" font-size="26.60" text-anchor="end">0.0015</text><text transform="translate(116.00,503.00) scale(1,1.060)" font-size="26.60" text-anchor="end">0.0020</text><text transform="translate(122.20,818.30) scale(1,1.060)" font-size="26.60" text-anchor="middle">40</text><text transform="translate(259.75,818.30) scale(1,1.060)" font-size="26.60" text-anchor="middle">50</text><text transform="translate(397.30,818.30) scale(1,1.060)" font-size="26.60" text-anchor="middle">60</text><text transform="translate(534.85,818.30) scale(1,1.060)" font-size="26.60" text-anchor="middle">70</text><text transform="translate(672.40,818.30) scale(1,1.060)" font-size="26.60" text-anchor="middle">80</text><text transform="translate(307.20,860.40) scale(0.9553,1)" font-size="27.94" style="font-family:'Liberation Serif';font-style:normal">Frequency</text><text transform="translate(427.73,860.30) scale(0.9843,1)" font-size="26.47" style="font-family:'Liberation Serif';font-style:normal">(kHz)</text><text transform="translate(18.50,706.97) rotate(-90) scale(0.9725,1)" font-size="27.58" style="font-family:'Liberation Serif';font-style:normal">Amplitude (a.u.)</text><text transform="translate(627.39,491.17) scale(1.0314,1)" font-size="26.01" style="font-family:'Liberation Serif';font-style:normal">(b)</text><path d="M434.1,505.2H481" stroke="#000" stroke-width="2.2" stroke-dasharray="3.6 2.5"/><path d="M434.2,532.4H482" stroke="#0000ff" stroke-width="1.6"/><path d="M434.2,558.8H482" stroke="#ff8000" stroke-width="1.6"/><text transform="translate(484.55,510.40) scale(1.0781,1)" font-size="17.10" style="font-family:'Liberation Serif';font-style:normal">FFT (data)</text><text transform="translate(484.55,538.00) scale(1.0727,1)" font-size="17.10" style="font-family:'Liberation Serif';font-style:normal">FFT (Exp model)</text><text transform="translate(484.55,564.60) scale(1.0746,1)" font-size="17.10" style="font-family:'Liberation Serif';font-style:normal">FFT (PL model)</text></svg></body></html>
